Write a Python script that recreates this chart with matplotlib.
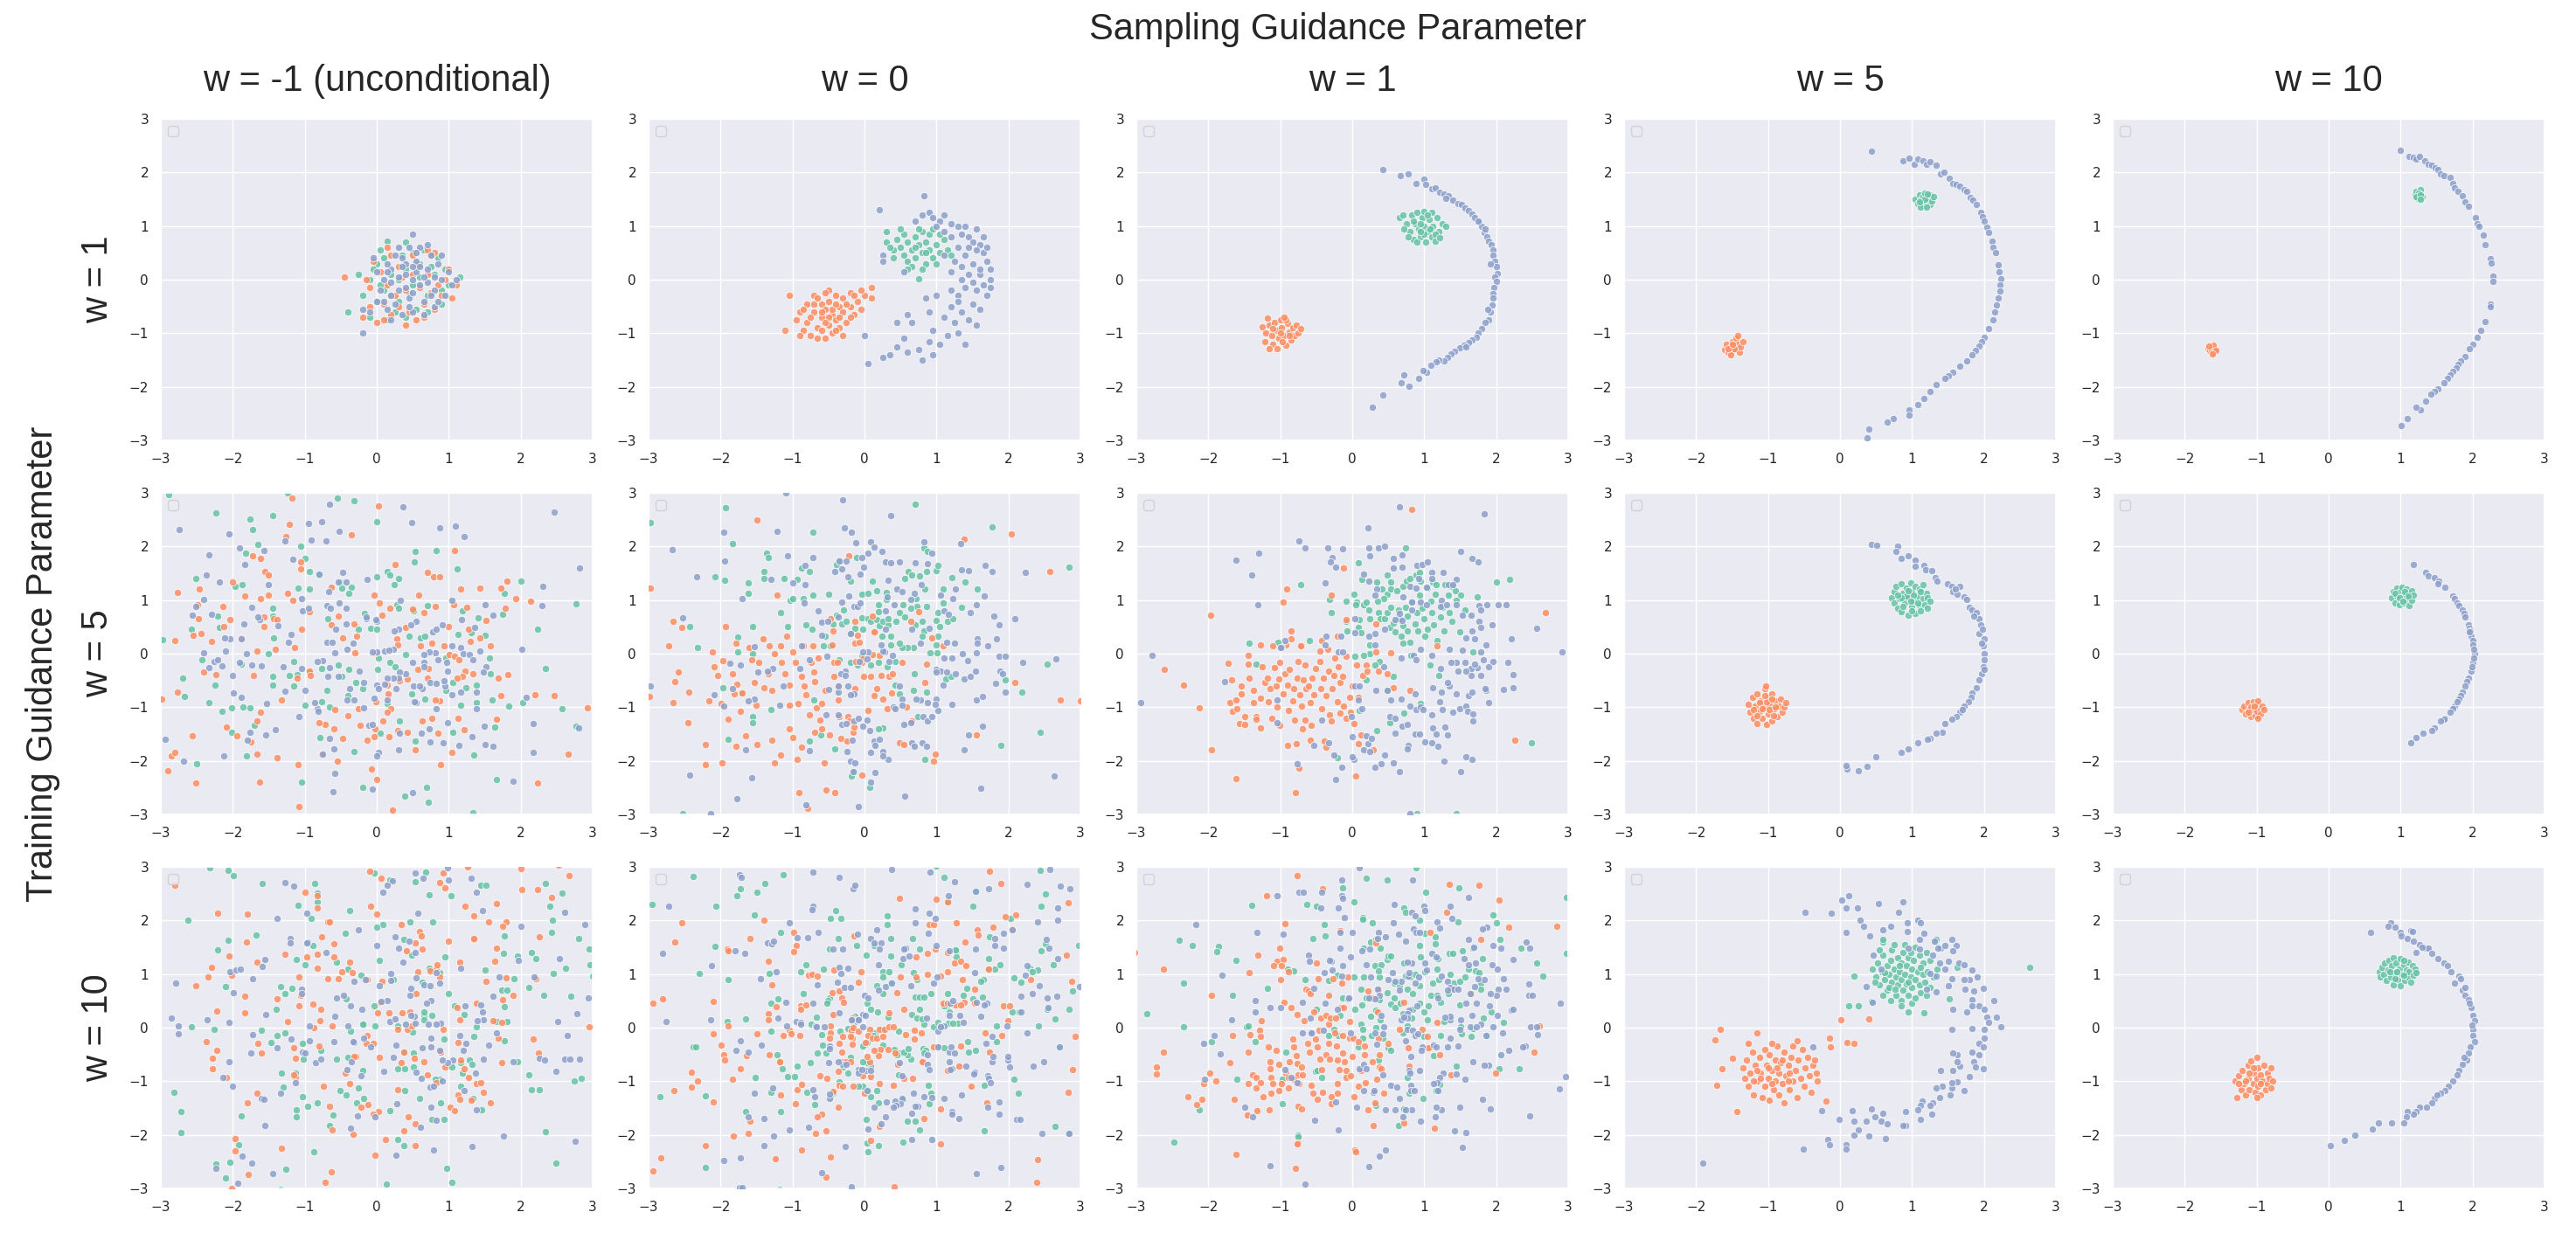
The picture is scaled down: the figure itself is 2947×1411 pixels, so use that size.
import matplotlib
matplotlib.use("Agg")
import matplotlib.pyplot as plt
import numpy as np
import seaborn as sns

COL_LABELS = ["w = -1 (unconditional)", "w = 0", "w = 1", "w = 5", "w = 10"]
ROW_LABELS = ["w = 1", "w = 5", "w = 10"]
SUPTITLE = "Sampling Guidance Parameter"
SUPYLABEL = "Training Guidance Parameter"
TICKS = [-3, -2, -1, 0, 1, 2, 3]

# points, "x,y" pairs, one string per class
# training w = 1
R1C1_GREEN = """-0.25,0.1 -0.4,-0.6 0.15,0.72 0.4,0.7 -0.1,-0.7 1.15,0.05 0.0,0.3 0.1,-0.2 0.2,0.1 0.3,-0.4
0.4,0.2 0.5,-0.1 0.6,0.3 0.7,-0.3 0.8,0.1 0.9,-0.2 0.0,-0.4 0.1,0.4 0.25,-0.6 0.35,0.45 0.55,-0.55 0.65,0.55
0.85,0.4 0.95,0.2 1.0,-0.1 -0.1,0.0 0.05,-0.1 0.3,0.0 0.45,-0.25 0.6,0.05 0.75,0.25 0.2,-0.3 -0.05,0.2 0.5,0.5
0.7,-0.6 0.15,-0.75 0.4,-0.7 0.9,-0.45 0.05,0.55 -0.2,-0.3"""
R1C1_ORANGE = """-0.45,0.05 0.15,0.6 -0.2,-0.7 1.05,-0.35 0.8,0.5 0.7,0.55 0.75,0.45 -0.1,-0.5 0.0,-0.8 0.1,-0.45
0.2,-0.65 0.3,-0.5 0.45,-0.6 0.55,-0.75 0.65,-0.45 0.8,-0.55 0.9,-0.3 1.0,0.2 0.95,0.0 0.05,0.15 -0.1,-0.15
0.15,-0.1 0.3,0.25 0.4,-0.2 0.5,0.1 0.6,-0.15 0.7,0.1 0.85,-0.1 0.25,-0.3 0.35,0.05 0.55,0.3 0.2,0.45 -0.05,0.35
0.4,-0.85 0.65,-0.7 0.1,-0.75 1.1,-0.1 0.5,0.45 -0.15,0.0 0.75,-0.25"""
R1C1_BLUE = """0.5,0.85 -0.2,-1.0 -0.2,-0.55 -0.1,-0.6 0.5,0.0 0.4,0.1 0.6,-0.1 0.3,-0.2 0.7,0.2 0.2,0.2 0.8,-0.2
0.55,0.35 0.45,-0.35 0.35,0.4 0.65,-0.4 0.25,-0.45 0.75,0.45 0.1,0.0 0.9,0.0 0.15,0.3 0.85,0.3 0.2,-0.3 0.95,-0.3
0.0,0.15 1.0,0.15 0.05,-0.2 1.05,-0.1 0.45,0.6 0.6,0.6 0.3,0.6 0.5,-0.6 0.65,-0.65 0.35,-0.65 0.8,-0.5 0.15,-0.55
0.9,0.45 -0.05,0.4 0.55,0.15 0.4,-0.15 0.3,0.05 0.7,-0.05 0.6,0.25 0.4,0.3 0.5,-0.25 0.2,-0.05 0.8,0.05 0.1,-0.4
0.25,0.45 0.75,-0.3 0.55,0.5 0.0,-0.4 1.1,0.0 0.7,0.65 0.2,-0.75 0.45,-0.5 0.35,0.25 0.65,0.05 0.85,-0.4 0.15,0.15
0.5,0.25"""

R1C2_GREEN = """0.3,0.9 0.3,0.7 0.75,0.02 0.4,0.55 0.45,0.75 0.5,0.6 0.55,0.45 0.55,0.85 0.6,0.7 0.6,0.35 0.65,0.55
0.7,0.8 0.7,0.4 0.75,0.65 0.8,0.5 0.8,0.9 0.85,0.3 0.85,0.7 0.9,0.55 0.9,0.85 0.95,0.4 1.0,0.65 1.0,0.3 1.05,0.5
1.1,0.75 1.15,0.55 0.65,0.25 0.5,0.95 0.75,0.95 0.95,0.95 0.4,0.4 0.6,0.2 0.7,0.6 0.85,0.5 1.2,0.45 0.8,0.2
0.35,0.6 1.05,0.85"""
R1C2_ORANGE = """-1.05,-0.3 -1.1,-0.95 0.1,-0.15 0.1,-0.35 -0.5,-0.2 -0.55,-1.1 -0.9,-0.6 -0.8,-0.45 -0.8,-0.8
-0.75,-1.05 -0.7,-0.3 -0.7,-0.6 -0.65,-0.9 -0.6,-0.45 -0.6,-0.7 -0.55,-0.55 -0.5,-0.85 -0.5,-0.4 -0.45,-0.65
-0.45,-1.0 -0.4,-0.3 -0.4,-0.75 -0.35,-0.5 -0.35,-0.9 -0.3,-0.6 -0.3,-0.35 -0.25,-0.8 -0.2,-0.5 -0.2,-0.25
-0.15,-0.65 -0.1,-0.4 -0.05,-0.55 0.0,-0.3 -0.85,-0.95 -0.95,-0.75 -0.65,-1.1 -0.55,-0.25 -0.75,-0.7 -0.6,-0.95
-0.45,-0.55 -0.5,-0.7 -0.35,-0.7 -0.25,-0.45 -0.15,-0.3 -0.85,-0.55 -0.7,-0.45 -0.4,-0.95 -0.3,-1.05 -0.6,-0.6
-0.55,-0.8 -0.2,-0.7 -0.05,-0.2 -0.9,-1.05 -0.65,-0.35 -0.4,-0.45"""
R1C2_BLUE = """0.83,1.56 0.21,1.31 0.8,1.2 0.9,1.25 0.95,1.15 1.05,1.1 1.1,1.2 1.2,1.05 1.3,1.0 0.7,1.1 1.0,1.0
1.35,0.85 1.45,0.8 1.5,0.7 1.6,0.65 1.65,0.5 1.3,0.6 1.4,0.45 1.5,0.3 1.7,0.35 1.75,0.2 1.6,0.1 1.45,0.1 1.75,0.0
1.65,-0.1 1.55,-0.2 1.4,-0.15 1.7,-0.3 1.3,-0.3 1.5,-0.45 1.6,-0.55 1.35,-0.6 1.2,-0.5 1.45,-0.75 1.55,-0.85
1.25,-0.8 1.1,-0.7 1.3,-1.0 1.15,-1.05 0.95,-0.95 1.05,-1.2 0.9,-1.15 0.65,-0.8 0.6,-0.65 0.45,-0.8 0.55,-1.1
0.45,-1.25 0.6,-1.35 0.75,-1.3 0.95,-1.4 0.8,-1.5 0.35,-1.4 0.25,-1.45 0.05,-1.56 0.0,-1.05 0.25,0.45 0.25,0.35
1.2,0.8 1.1,0.9 1.35,0.25 1.55,0.95 1.4,1.0 1.25,0.35 1.2,0.15 1.35,0.0 1.55,0.55 1.65,0.8 1.1,0.45 1.0,-0.3
1.2,-0.2 0.9,-0.6 1.4,-1.2 1.6,0.2 1.75,-0.15 1.7,0.6 1.3,-0.4 1.45,0.6 1.5,-0.05 0.55,0.15 0.85,-0.35"""

R1C3_GREEN = """0.65,1.15 0.7,1.2 0.75,1.05 0.8,0.9 0.82,1.2 0.85,0.75 0.88,1.05 0.9,1.25 0.92,0.95 0.95,0.8
0.97,1.15 1.0,1.0 1.0,1.27 1.02,0.7 1.05,0.9 1.07,1.12 1.1,1.25 1.1,0.8 1.12,1.0 1.15,0.72 1.18,1.15 1.2,0.9
1.25,1.05 1.3,1.0 0.78,0.8 0.85,1.1 0.95,1.05 1.05,1.2 1.15,0.85 0.9,0.7 1.0,0.85 1.08,0.95 0.95,0.9 1.22,0.78
0.72,0.95"""
R1C3_ORANGE = """-1.18,-0.72 -1.25,-0.88 -1.2,-1.0 -1.22,-1.15 -1.15,-0.85 -1.12,-1.05 -1.1,-1.2 -1.08,-0.8
-1.05,-0.95 -1.02,-1.1 -1.0,-0.75 -0.98,-0.9 -0.95,-1.05 -0.92,-1.22 -0.9,-0.82 -0.88,-0.98 -0.85,-1.12 -0.82,-0.9
-0.8,-1.05 -0.78,-0.85 -0.75,-1.0 -0.92,-0.75 -1.15,-1.28 -0.72,-0.92 -1.05,-1.28 -0.95,-0.7 -1.0,-1.0
-0.87,-1.05 -1.1,-0.92 -0.97,-1.15"""
R1C3_BLUE = """0.43,2.05 0.67,1.94 0.78,1.98 0.89,1.79 1.0,1.87 1.02,1.78 1.1,1.7 1.15,1.72 1.22,1.63 1.28,1.6
1.33,1.56 1.4,1.48 1.47,1.42 1.52,1.4 1.57,1.34 1.62,1.28 1.66,1.23 1.7,1.15 1.76,1.07 1.8,1.0 1.84,0.88 1.87,0.8
1.9,0.72 1.93,0.65 1.96,0.55 1.95,0.45 1.98,0.34 2.0,0.25 2.02,0.12 1.98,0.05 2.0,-0.04 1.97,-0.15 1.96,-0.26
1.95,-0.35 1.94,-0.48 1.92,-0.6 1.9,-0.75 1.85,-0.8 1.8,-0.91 1.75,-1.0 1.72,-1.08 1.66,-1.12 1.62,-1.18
1.55,-1.22 1.49,-1.27 1.42,-1.33 1.37,-1.38 1.32,-1.45 1.27,-1.51 1.2,-1.5 1.17,-1.54 1.09,-1.59 1.03,-1.73
0.98,-1.7 0.92,-1.84 0.72,-1.78 0.79,-1.99 0.68,-1.92 0.42,-2.15 0.28,-2.38 1.75,1.1 1.85,0.95 1.92,0.3
1.88,-0.55 1.58,-1.25 1.3,1.52"""

R1C4_GREEN = """1.05,1.5 1.08,1.42 1.1,1.58 1.12,1.48 1.15,1.38 1.15,1.55 1.18,1.62 1.2,1.45 1.22,1.52 1.25,1.4
1.25,1.58 1.28,1.47 1.3,1.55 1.12,1.35 1.2,1.35 1.18,1.5 1.1,1.45 1.22,1.6"""
R1C4_ORANGE = """-1.6,-1.3 -1.58,-1.2 -1.55,-1.35 -1.52,-1.25 -1.5,-1.15 -1.5,-1.32 -1.48,-1.22 -1.45,-1.3
-1.45,-1.1 -1.42,-1.2 -1.4,-1.35 -1.38,-1.25 -1.35,-1.15 -1.52,-1.4 -1.47,-1.28 -1.42,-1.05 -1.55,-1.28 -1.5,-1.2"""
R1C4_BLUE = """0.44,2.39 0.88,2.21 0.96,2.27 1.03,2.16 1.08,2.25 1.15,2.21 1.2,2.15 1.25,2.2 1.33,2.14 1.4,1.97
1.45,2.0 1.52,1.89 1.57,1.8 1.62,1.78 1.66,1.75 1.72,1.68 1.76,1.64 1.81,1.53 1.85,1.48 1.89,1.4 1.95,1.26
1.98,1.18 2.0,1.1 2.04,0.98 2.06,0.88 2.11,0.72 2.13,0.6 2.16,0.5 2.2,0.28 2.21,0.15 2.23,0.01 2.22,-0.1
2.22,-0.21 2.2,-0.35 2.18,-0.48 2.15,-0.6 2.12,-0.75 2.06,-0.91 2.0,-1.08 1.97,-1.15 1.93,-1.24 1.88,-1.32
1.84,-1.4 1.76,-1.51 1.67,-1.62 1.57,-1.73 1.5,-1.8 1.46,-1.84 1.33,-1.95 1.25,-2.08 1.16,-2.22 1.08,-2.33
0.96,-2.43 0.96,-2.52 0.74,-2.6 0.65,-2.66 0.4,-2.79 0.38,-2.95"""

R1C5_GREEN = """1.2,1.58 1.22,1.65 1.24,1.52 1.26,1.6 1.28,1.68 1.3,1.55 1.25,1.62 1.22,1.55 1.28,1.58 1.27,1.5"""
R1C5_ORANGE = """-1.68,-1.28 -1.65,-1.32 -1.62,-1.25 -1.6,-1.35 -1.58,-1.28 -1.63,-1.3 -1.6,-1.22 -1.66,-1.24
-1.57,-1.32 -1.62,-1.38"""
R1C5_BLUE = """1.0,2.41 1.12,2.3 1.18,2.29 1.22,2.25 1.26,2.3 1.33,2.21 1.38,2.15 1.43,2.13 1.48,2.08 1.52,2.05
1.56,1.98 1.6,1.94 1.69,1.9 1.72,1.8 1.75,1.72 1.8,1.64 1.86,1.56 1.9,1.45 1.94,1.37 2.04,1.15 2.07,1.05
2.09,0.99 2.15,0.83 2.18,0.66 2.25,0.39 2.26,0.31 2.28,0.07 2.28,-0.04 2.25,-0.45 2.25,-0.51 2.18,-0.78
2.11,-0.94 2.07,-1.08 2.0,-1.2 1.96,-1.29 1.9,-1.43 1.84,-1.51 1.8,-1.58 1.77,-1.65 1.72,-1.72 1.69,-1.78
1.65,-1.85 1.6,-1.92 1.52,-2.03 1.47,-2.08 1.42,-2.14 1.35,-2.27 1.28,-2.43 1.22,-2.38 1.09,-2.6 1.01,-2.73"""

# training w = 5
R2C1_GREEN = """-2.89,2.96 -2.23,2.62 -1.76,2.51 -1.73,2.31 -1.44,2.58 -1.24,3.0 -0.55,2.9 -0.31,2.85 0.0,2.46
-1.65,2.04 -1.06,2.0 -1.82,1.87 -0.99,1.77 0.53,1.91 0.83,1.92 0.52,1.71 1.12,1.58 -2.51,1.41 -1.97,1.25
-1.87,1.29 -1.09,1.22 -0.93,1.54 -0.93,1.21 -0.8,1.46 -0.51,1.34 -0.48,1.22 -0.35,1.24 -0.39,1.13 0.0,1.43
0.14,1.53 0.18,1.47 0.3,1.4 0.24,1.28 1.77,1.13 2.01,1.36 2.77,0.93 -1.45,0.84 -2.21,0.7 -2.57,0.45 -2.19,0.49
-2.97,0.26 -1.45,0.7 -1.43,0.29 -0.68,0.65 -0.17,0.75 -0.25,0.45 -0.09,0.48 0.0,0.46 0.28,0.91 0.3,0.85 0.7,0.89
0.51,0.8 1.19,0.8 1.41,0.67 1.75,0.73 1.5,0.35 2.24,0.45 0.45,0.33 0.61,0.3 0.67,0.32 1.13,0.36 1.31,0.39
0.4,-0.02 0.02,-0.08 0.01,-0.3 0.18,-0.17 0.25,-0.24 -1.51,0.0 -1.88,-0.19 -1.15,-0.15 -0.93,-0.35 -0.76,-0.27
-0.39,-0.3 -0.53,-0.21 -2.43,-0.11 -2.7,-0.46 -2.25,-0.59 -1.45,-0.43 -1.22,-0.41 -1.11,-0.39 -0.49,-0.43
-0.29,-0.54 -0.19,-0.66 -0.4,-0.79 -0.69,-0.68 -1.15,-0.61 -1.0,-0.97 -1.45,-0.59 -1.86,-1.0 -2.02,-1.01
-2.33,-0.91 -2.67,-0.8 -2.15,-1.08 -1.76,-1.01 -0.76,-0.9 -0.66,-0.99 0.15,-0.93 0.49,-0.75 0.67,-0.85
0.96,-0.68 1.06,-0.53 1.24,-0.63 1.38,-0.59 1.58,-0.38 1.57,-0.08 2.34,-0.28 1.6,-0.87 1.84,-0.98 2.03,-0.91
2.57,-1.03 1.17,-0.97 1.06,-1.47 1.38,-0.92 1.64,-1.37 1.35,-1.89 2.77,-1.36 1.66,-2.35 0.39,-2.65 0.69,-2.49
0.72,-2.77 1.33,-2.96 -0.19,-2.5 -1.04,-2.4 -2.5,-2.05 -1.81,-1.9 -1.7,-1.33 -2.02,-1.46 -0.79,-1.57
0.05,-1.49 -0.31,-1.82 0.53,-1.63 0.31,-1.25 0.96,-0.08"""
R2C1_ORANGE = """-1.18,2.9 -1.21,2.42 -1.26,2.18 0.02,2.76 -0.35,2.22 1.08,1.92 0.25,1.66 0.71,1.51 0.79,1.43
0.88,1.43 -1.72,1.82 -1.62,1.77 -1.06,1.71 -1.06,1.58 -1.55,1.54 -1.51,1.47 -2.01,1.34 -2.47,1.21 -2.77,1.14
-1.62,1.03 -1.83,1.08 -1.51,1.1 -1.24,1.13 -1.16,1.0 -0.63,1.24 -0.04,1.1 0.04,0.95 0.58,1.09 1.17,1.21 1.43,1.22
1.81,1.36 1.72,1.22 1.93,1.02 2.14,0.98 1.07,0.91 1.25,0.86 1.79,0.84 0.81,0.88 0.65,0.76 0.5,0.83 0.18,0.84
0.07,0.72 -2.49,0.92 -2.48,0.66 -2.14,0.88 -2.04,0.64 -2.12,0.5 -2.44,0.38 -2.55,0.34 -2.8,0.24 -1.57,0.68
-1.57,0.5 -1.43,0.65 -1.38,0.64 -1.41,0.08 -1.88,0.3 -2.3,0.23 -1.66,0.05 -1.04,0.46 -0.93,0.78 -1.14,0.11
-0.53,0.7 -0.63,0.53 -0.47,0.3 -0.28,0.32 -0.32,0.55 -0.3,0.02 -0.03,0.02 0.4,0.49 0.28,0.27 0.29,0.16 0.61,0.14
0.76,0.19 0.99,0.51 0.93,0.14 1.01,-0.01 1.08,-0.05 1.14,-0.12 1.28,0.45 1.3,0.23 1.43,0.3 1.58,0.15 1.52,0.62
1.23,-0.33 1.19,-0.43 1.12,-0.46 1.34,-0.38 1.69,-0.45 1.82,-0.39 1.72,-0.79 2.2,-0.77 2.47,-0.78 2.93,-1.01
1.67,-1.23 1.21,-1.42 1.13,-1.2 1.04,-1.84 0.89,-2.07 0.85,-1.48 0.77,-1.21 0.63,-1.26 0.87,-0.88 0.81,-0.87
0.72,-0.27 0.57,-0.3 0.71,-0.46 0.32,-0.5 0.42,-0.48 0.14,-0.58 0.16,-0.75 0.2,-1.02 0.14,-1.1 0.29,-1.43
0.42,-1.46 0.53,-1.79 0.17,-1.55 0.08,-1.26 -0.02,-1.41 -0.04,-1.55 -0.13,-1.62 -0.01,-0.9 -0.26,-1.02
-0.23,-1.34 -0.4,-1.15 -0.47,-1.58 -0.58,-1.04 -0.59,-1.4 -0.72,-1.32 -0.8,-1.28 -0.55,-2.0 -0.07,-2.16 0.0,-2.34
0.22,-2.92 -1.09,-2.07 -1.08,-2.85 -0.76,-1.88 -0.94,-0.33 -0.92,-0.41 -1.1,-0.45 -1.32,-0.86 -1.61,-1.1
-1.66,-1.25 -1.75,-1.65 -2.09,-1.37 -1.94,-1.54 -2.56,-1.54 -2.77,-0.72 -2.99,-0.84 -2.4,-0.34 -2.24,-0.39
-1.71,-0.41 -1.66,-1.88 -1.38,-1.94 -1.63,-2.4 -2.51,-2.42 -2.9,-2.19 -2.85,-1.9 -2.81,-1.84 2.66,-1.88
2.24,-2.42"""
R2C1_BLUE = """-2.75,2.31 -2.05,2.23 -0.66,2.79 -0.77,2.47 -0.95,2.43 -0.52,2.28 -0.91,2.12 -0.71,2.1 -1.28,2.1
0.36,2.74 0.48,2.45 0.87,2.35 1.09,2.38 1.21,2.19 2.46,2.64 2.82,1.6 2.31,1.26 2.3,0.89 1.62,0.71 1.51,0.92
1.05,1.0 1.18,0.64 1.36,0.49 1.04,0.15 1.16,0.11 1.2,0.0 1.29,-0.02 1.33,-0.11 1.43,0.05 1.52,-0.24 1.48,-0.34
1.16,-0.71 1.05,-0.76 1.39,-0.71 1.39,-1.02 1.32,-1.55 1.14,-1.71 0.92,-1.67 0.98,-1.28 0.83,-1.02 0.73,-1.41
0.74,-1.65 0.62,-1.49 0.32,-1.49 0.3,-1.8 0.55,-0.92 0.52,-0.9 0.51,-0.61 0.63,-0.65 0.59,-0.6 0.74,-0.53
0.83,-0.55 0.95,-0.6 0.94,-0.5 0.98,-0.33 0.97,-0.17 0.85,-0.11 0.81,0.01 0.73,0.03 0.65,-0.16 0.65,-0.24
0.65,-0.02 0.78,0.41 0.83,0.46 0.91,0.53 0.55,0.6 0.47,0.53 0.3,0.45 0.33,1.0 0.0,0.61 -0.14,0.65 -0.13,1.39
0.5,-0.16 0.4,-0.38 0.31,-0.35 0.3,-0.46 0.27,-0.65 0.23,-0.45 0.15,-0.45 0.0,-0.59 0.11,-0.57 0.02,-0.65
-0.04,-0.83 0.14,-0.87 0.11,0.05 0.23,0.08 0.17,0.07 0.0,0.04 -0.06,0.03 -0.18,-1.01 -0.11,-1.33 -0.06,-1.32
0.02,-1.85 0.0,-1.91 -0.06,-2.52 0.5,-2.6 -0.58,-2.24 -0.61,-2.57 -0.75,-1.88 -0.6,-1.77 -0.66,-1.58 -0.83,-1.03
-0.81,-1.08 -0.86,-0.92 -1.08,-1.17 -1.27,-0.7 -0.99,-0.68 -0.68,-0.43 -0.53,-0.43 -0.38,-0.65 -0.41,-0.87
-0.32,-0.87 -0.18,-0.53 -0.24,-0.33 -0.66,-0.26 -0.75,-0.13 -0.83,-0.15 -1.05,-0.28 -1.3,-0.25 -1.6,-0.23
-1.74,-0.22 -2.0,-0.4 -2.15,-0.23 -2.26,-0.15 -2.21,-0.11 -2.33,-0.26 -2.41,0.02 -2.1,0.05 -2.04,0.28 -1.81,0.0
-1.91,-0.17 -1.88,0.27 -1.85,0.56 -1.74,0.86 -1.63,0.64 -1.65,0.68 -1.37,0.52 -1.23,0.21 -1.19,0.36 -1.04,1.03
-1.03,0.8 -0.95,0.84 -0.69,0.89 -0.64,0.85 -0.67,1.15 -0.42,1.34 -0.54,1.33 -0.47,1.51 -0.8,1.49 -0.52,0.95
-0.43,0.85 -0.43,0.55 -0.57,0.45 -0.69,0.22 -0.62,0.22 -0.41,0.08 -0.33,0.19 -0.58,0.01 -0.15,0.68 -0.01,0.64
0.24,0.43 -1.17,1.76 -1.51,1.28 -1.57,1.92 -1.83,1.67 -1.91,1.98 -2.33,1.85 -2.37,1.47 -2.19,1.34 -2.4,1.01
-2.51,0.88 -2.56,0.72 -2.29,0.74 -2.11,0.3 -1.99,-0.74 -1.88,-0.82 -1.53,-0.93 -1.41,-1.42 -1.54,-1.51
-1.76,-1.47 -1.8,-1.62 -2.12,-1.91 -2.69,-2.01 -2.94,-1.59 2.17,-1.3 2.17,-1.85 1.89,-2.38 1.5,-1.7 1.61,-1.73
2.08,-0.82 2.02,0.08 2.81,-1.38 1.49,-1.36"""

R2C2_GREEN = """-2.98,2.45 -1.93,2.73 -1.83,2.05 -0.72,2.27 0.71,2.79 1.77,2.36 2.84,1.62 -2.08,1.43 -1.94,1.37
-1.62,1.32 -1.61,1.13 -1.4,1.54 -1.36,1.88 -1.34,1.79 -1.4,1.41 -1.12,1.41 -0.94,1.38 -0.87,1.59 -0.77,1.54
-0.72,1.1 -1.03,1.0 -1.0,1.02 -1.16,0.77 -1.07,0.51 -0.81,0.53 -0.73,0.45 -0.85,1.03 -0.5,1.11 -0.39,1.67
-0.35,1.73 -0.2,1.36 -0.11,1.8 -0.04,1.11 0.05,1.13 0.17,1.18 0.11,1.35 0.3,1.14 0.3,1.01 0.2,0.91 0.2,0.79
-0.29,0.82 -0.39,0.71 -0.44,0.55 -0.32,0.56 -0.25,0.6 -0.2,0.37 -0.13,0.48 -0.04,0.67 -0.03,0.45 0.05,0.65
0.09,0.6 0.17,0.64 0.21,0.52 0.25,0.6 0.33,0.54 0.33,0.65 0.36,0.33 0.24,0.33 0.44,0.61 0.48,0.76 0.53,0.92
0.56,1.4 0.61,1.53 0.65,1.46 0.76,1.45 0.84,1.21 0.86,1.54 0.83,1.98 0.88,1.91 0.99,1.55 1.02,1.65 1.21,1.42
1.4,1.33 1.57,1.21 1.35,0.87 1.09,1.21 1.09,0.95 1.02,0.76 0.86,0.88 0.72,1.03 0.73,0.88 0.64,0.84 0.56,0.68
0.7,0.54 0.8,0.6 0.83,0.43 0.99,0.62 1.04,0.5 1.15,0.6 1.23,0.65 1.02,0.33 0.99,0.16 1.01,0.01 0.91,0.01
0.8,0.33 0.68,0.11 0.6,0.11 0.52,0.12 0.48,0.19 0.37,0.16 0.42,-0.15 0.31,-0.24 0.19,-0.17 0.09,-0.21
-0.04,-0.05 -0.1,-0.21 -0.19,-0.17 -0.35,-0.11 -0.47,0.14 -0.57,0.14 -0.55,0.33 0.42,-0.59 0.48,-0.75
0.69,-0.38 0.68,-0.68 0.74,-1.17 0.86,-0.71 0.84,-1.97 0.25,-1.39 0.2,-1.4 0.07,-2.5 -0.18,-2.28 -0.15,-2.2
1.13,-0.48 1.2,-0.43 1.96,-0.49 2.19,-0.72 2.44,-1.46 1.89,-1.72 2.54,-0.2 -0.77,-1.63 -0.41,-1.77 -1.3,-1.04
-1.56,-1.18 -1.56,-1.28 -1.71,-0.73 -1.97,-0.64 -1.9,-1.6 -2.32,0.12 -2.43,0.5 -1.76,0.03 -1.76,0.31 -1.56,0.0
-1.56,0.51 -2.53,-2.99 -0.7,-0.87 -0.61,-1.52"""
R2C2_ORANGE = """-1.5,2.49 -2.98,1.22 -1.21,1.09 -0.22,1.82 1.39,2.14 2.04,2.24 2.57,1.53 -2.66,0.6 -2.54,0.49
-1.93,0.51 -2.72,0.14 -2.59,-0.35 -2.63,-0.52 -2.99,-0.8 -2.66,-0.92 -2.44,-0.72 -2.45,-1.29 -2.21,-1.7
-2.21,-2.07 -1.98,-2.04 -2.16,-0.88 -2.11,0.03 -2.09,-0.24 -2.04,-0.41 -1.97,-0.13 -1.99,-0.93 -1.9,-1.23
-1.81,-0.75 -1.84,-0.38 -1.78,0.19 -1.77,-0.57 -1.73,-1.08 -1.79,-1.73 -1.7,-0.73 -1.65,-1.53 -1.6,0.11
-1.57,-0.12 -1.53,-0.53 -1.51,-0.96 -1.5,-1.7 -1.47,-0.16 -1.41,0.27 -1.4,-0.64 -1.34,-0.37 -1.32,0.15
-1.29,-0.68 -1.29,-1.61 -1.25,-2.04 -1.25,0.0 -1.17,0.15 -1.17,-1.89 -1.15,-0.16 -1.1,-0.37 -1.08,0.33
-1.05,-0.58 -1.05,-0.96 -1.04,-1.41 -1.0,0.03 -0.99,-1.57 -0.96,-0.16 -0.94,-1.97 -0.92,-0.93 -0.91,-2.6
-0.88,-0.43 -0.87,-1.75 -0.85,0.14 -0.84,-0.6 -0.81,-0.76 -0.79,-2.88 -0.76,-1.14 -0.74,-0.17 -0.72,0.14
-0.7,-0.35 -0.69,-1.47 -0.69,-0.52 -0.67,-1.01 -0.64,-0.08 -0.62,-1.24 -0.6,-0.93 -0.59,-1.41 -0.56,-2.04
-0.55,-0.68 -0.53,-2.54 -0.49,-1.52 -0.47,0.65 -0.45,0.16 -0.44,0.43 -0.43,-0.16 -0.43,-0.43 -0.41,-2.6
-0.38,-0.17 -0.37,-0.6 -0.36,-0.87 -0.35,-1.17 -0.33,-1.58 -0.24,-1.63 -0.23,-1.17 -0.21,-1.26 -0.16,-1.46
-0.15,-1.37 -0.13,0.19 -0.13,-0.65 -0.12,-0.14 -0.1,0.34 -0.07,0.22 -0.04,-0.16 -0.04,-2.27 -0.03,-0.1
-0.01,-0.43 0.05,-1.06 0.09,-0.43 0.11,-0.01 0.13,-0.79 0.15,0.41 0.17,-0.65 0.21,-0.03 0.23,-0.41 0.26,-0.84
0.32,-1.03 0.34,-0.42 0.39,-0.38 0.38,-0.73 0.48,-1.67 0.52,-0.17 0.55,-1.7 0.58,-0.99 0.64,0.61 0.66,-1.25
0.75,0.79 0.84,-0.53 0.86,-0.2 0.94,0.3 0.96,-2.01 0.98,-1.88 1.09,0.14 1.55,-1.51 2.09,-0.54 2.72,-0.87
3.0,-0.88 -0.13,0.61 0.13,0.4 0.11,0.7"""
R2C2_BLUE = """-1.09,3.0 -0.3,2.87 0.36,2.57 -1.95,2.27 -1.21,2.28 -0.28,2.34 -0.18,2.27 -0.12,2.07 0.09,2.08
0.13,1.99 0.24,1.9 0.82,2.09 0.94,1.87 1.34,2.05 -2.67,1.94 -1.94,1.73 -2.33,1.44 -1.07,1.82 -0.83,1.65
-0.72,1.79 -0.35,1.73 -0.26,1.73 -0.04,1.79 0.05,1.88 -0.01,1.61 -0.41,1.53 -0.32,1.58 -0.23,1.43 -0.06,1.49
0.29,1.71 0.37,1.69 0.48,1.71 0.71,1.7 0.88,1.68 1.35,1.57 1.45,1.55 1.68,1.64 1.77,1.53 2.23,1.51 -1.3,1.39
-1.0,1.32 -0.83,1.28 -0.22,1.07 0.33,1.37 0.45,1.21 0.52,1.16 0.69,1.13 0.79,1.29 1.06,1.1 1.26,1.21 1.23,1.03
1.66,1.07 1.55,0.91 -1.7,1.03 -0.64,0.8 -0.84,0.95 -0.32,0.97 -0.15,0.88 -0.1,0.88 -0.06,0.95 0.31,1.06
0.41,0.91 0.29,0.8 0.64,1.01 1.11,0.8 1.16,0.73 1.47,0.76 1.8,0.7 1.87,0.54 2.09,0.66 -2.53,0.67 -0.6,0.59
-0.36,0.68 -0.19,0.37 0.29,0.46 0.65,0.46 0.9,0.47 0.78,0.19 1.14,0.22 1.25,0.19 1.57,0.27 1.57,0.19 1.83,0.27
1.71,0.15 1.55,0.01 1.43,-0.13 1.36,0.0 1.22,-0.08 1.1,-0.08 0.99,-0.3 1.06,-0.33 1.14,-0.34 1.26,-0.38
1.38,-0.48 1.47,-0.43 1.54,-0.33 1.87,-0.05 1.95,-0.05 1.88,-0.33 1.92,-0.38 1.82,-0.56 1.95,-0.71 2.2,-0.17
2.66,-0.09 1.0,-0.34 1.09,-0.59 1.21,-0.95 1.56,-0.87 1.64,-0.8 0.99,-0.84 1.02,-1.06 0.98,-0.95 0.87,-0.92
0.78,-0.87 0.72,-0.84 0.52,-0.84 0.52,-0.97 0.4,-0.99 0.42,-1.03 0.49,-0.6 0.34,-0.14 0.39,-0.04 0.28,0.03
0.25,0.05 0.23,0.17 0.05,0.04 -0.03,0.03 0.04,-0.1 -0.07,-0.14 -0.27,-0.33 -0.33,-0.37 -0.27,-0.41 -0.23,-0.6
-0.15,-0.75 -0.2,-0.76 -0.32,-1.32 -0.26,-1.3 -0.15,-1.26 -0.08,-1.21 -0.03,-1.36 0.04,-1.24 0.07,-1.44
0.13,-1.63 0.21,-1.6 0.14,-1.71 0.26,-1.82 0.33,-1.98 0.09,-1.84 0.25,-1.91 -0.17,-1.61 -0.24,-1.82 -0.19,-2.0
-0.13,-2.04 -0.16,-2.2 0.15,-2.22 0.09,-2.4 -0.09,-2.85 0.56,-2.65 0.66,-1.66 0.69,-1.73 0.8,-1.67 0.86,-1.73
0.64,-1.29 0.55,-1.32 0.81,-1.18 0.88,-1.26 0.93,-1.17 1.38,-1.8 1.45,-1.51 1.64,-1.35 1.62,-2.51 2.64,-2.28
-0.53,-1.14 -0.36,-1.14 -0.5,-0.67 -0.36,-0.72 -0.36,-0.61 -0.52,-0.05 -0.51,0.6 -0.6,0.34 -0.88,0.14
-0.76,-0.12 -0.9,-0.28 -1.13,-0.6 -1.18,-0.96 -1.28,-0.27 -1.35,-0.33 -1.48,-0.34 -1.53,0.13 -1.53,-0.84
-1.62,-0.88 -1.73,-0.22 -1.87,-0.18 -1.83,-0.65 -1.96,-0.98 -2.09,-0.77 -2.98,-0.6 -1.65,-1.8 -1.57,-2.32
-1.77,-2.7 -2.14,-2.98 -2.43,-2.27 -0.81,-2.82 -0.77,-1.81"""

R2C3_GREEN = """0.74,1.98 0.09,1.7 0.13,1.38 2.01,1.34 2.19,1.38 -0.72,1.28 -0.32,1.01 -0.29,0.77 -1.43,0.2
-1.34,-0.2 -1.03,0.22 -0.6,0.24 -0.09,0.61 -0.07,0.43 0.02,1.11 -0.08,0.98 0.06,0.97 0.05,0.92 0.16,0.92
0.2,0.97 0.23,0.82 0.24,0.65 0.08,0.49 0.12,0.39 0.1,0.63 0.24,0.17 0.24,0.0 0.16,-0.04 0.04,-0.05 0.34,1.33
0.41,1.2 0.48,1.47 0.53,1.33 0.49,1.11 0.44,1.03 0.54,1.2 0.62,1.17 0.7,1.25 0.75,1.36 0.8,1.41 0.89,1.47
0.93,1.51 0.95,1.36 1.05,1.22 1.12,1.33 1.17,1.28 1.29,1.28 1.38,1.25 1.43,1.17 1.51,1.1 1.74,1.06 0.35,0.98
0.36,0.76 0.39,0.65 0.45,0.65 0.49,0.76 0.52,0.49 0.54,0.87 0.57,0.57 0.59,0.41 0.64,0.82 0.66,0.65 0.68,0.33
0.7,0.19 0.7,0.52 0.74,0.87 0.76,0.7 0.77,0.43 0.8,0.22 0.81,-0.03 0.83,0.98 0.87,0.55 0.9,0.76 0.91,0.43
0.93,1.09 0.97,0.84 0.99,0.65 1.01,0.33 1.05,0.46 1.09,0.98 1.11,0.76 1.13,0.54 1.15,1.11 1.18,0.24 1.23,0.68
1.25,0.87 1.27,0.43 1.33,1.09 1.35,0.76 1.39,0.6 1.45,1.0 1.49,0.41 1.57,0.82 1.68,0.03 1.2,-0.41 1.08,-0.22
0.95,-0.93 0.72,-1.11 0.52,-1.29 0.49,-0.68 0.57,-0.43 0.38,-0.14 0.32,-0.22 0.2,-0.49 0.1,-1.06 -0.21,-1.94
0.34,-1.44 1.44,-2.99 2.49,-1.67 0.9,-2.99"""
R2C3_ORANGE = """0.83,2.69 -0.12,1.59 -0.91,1.2 -0.96,0.96 -0.29,1.1 -1.97,0.71 0.33,0.56 -0.09,0.63 -0.85,0.43
2.68,0.76 -2.61,-0.29 -2.34,-0.58 -2.12,-1.01 -1.95,-1.8 -1.73,-0.18 -1.68,-0.49 -1.7,-0.92 -1.66,-1.08
-1.62,-0.87 -1.6,-1.02 -1.54,-0.75 -1.54,-0.6 -1.49,-1.17 -1.57,-1.3 -1.49,-1.32 -1.44,-0.04 -1.44,-0.19
-1.43,-0.45 -1.37,-0.68 -1.37,-0.92 -1.34,-1.17 -1.33,-1.22 -1.28,0.17 -1.28,-1.39 -1.27,-0.83 -1.25,-0.24
-1.22,-0.54 -1.18,-0.46 -1.16,-0.9 -1.14,-0.65 -1.12,-1.2 -1.1,0.14 -1.08,-0.26 -1.06,-0.6 -1.05,-1.0
-1.02,-0.48 -1.01,-0.16 -1.01,-1.33 -0.96,-0.75 -0.94,-0.38 -0.92,0.16 -0.9,-0.59 -0.9,-1.71 -0.89,-1.06
-0.87,-0.29 -0.85,0.27 -0.83,-0.88 -0.81,-0.65 -0.8,-1.24 -0.78,-1.68 -0.77,-0.46 -0.75,-0.14 -0.73,-0.76
-0.71,-0.98 -0.71,0.15 -0.69,-1.41 -0.68,-0.49 -0.66,-0.22 -0.65,-1.24 -0.64,-0.65 -0.61,-0.6 -0.58,-0.92
-0.58,-1.62 -0.57,-1.33 -0.56,-0.46 -0.53,-0.76 -0.51,-0.27 -0.45,0.05 -0.45,-0.15 -0.44,-0.65 -0.42,-1.03
-0.4,-0.46 -0.39,-1.63 -0.37,-1.74 -0.36,-0.79 -0.34,0.08 -0.33,-0.33 -0.32,-1.14 -0.29,-1.25 -0.28,-0.65
-0.25,-0.41 -0.24,-0.08 -0.21,0.33 -0.21,-0.9 -0.19,-0.24 -0.17,-0.54 -0.17,-1.11 -0.13,-0.43 -0.12,-0.98
-0.09,-0.05 -0.09,-1.2 -0.04,-0.82 -0.02,-1.09 0.0,-0.6 0.02,-1.3 0.06,-0.22 0.08,-0.82 0.09,-1.68 0.12,-1.51
0.14,-0.41 0.2,-0.22 0.21,-0.33 0.33,0.03 0.37,-0.33 0.48,-0.38 0.54,0.02 0.57,-0.63 0.8,-0.69 1.18,0.14
2.26,-1.61 -0.79,-2.6 -0.74,-2.13 -1.62,-2.33 0.05,-2.28 0.29,-1.79 -0.72,0.15 -0.43,0.25"""
R2C3_BLUE = """0.66,2.74 1.83,2.61 0.22,2.34 -0.74,2.11 -0.66,1.98 -0.34,1.97 -0.13,1.95 0.23,1.98 0.37,1.97
0.45,2.0 0.24,1.82 0.57,1.78 0.69,1.84 -0.28,1.8 -0.3,1.71 -0.23,1.61 -1.62,1.74 -1.3,1.88 -1.4,1.46 -1.31,0.92
-0.38,1.32 0.16,1.49 0.23,1.36 0.34,1.2 0.32,1.1 0.57,1.59 0.69,1.61 0.9,1.64 0.97,1.67 1.05,1.71 1.1,1.52
1.26,1.51 1.51,1.91 1.67,1.78 1.75,1.71 1.45,1.39 1.33,1.29 1.4,1.29 1.11,1.4 0.92,1.4 0.8,1.25 0.89,1.22
1.03,1.24 0.7,1.06 0.83,0.97 0.95,0.97 1.03,0.91 0.83,0.82 0.66,0.75 1.24,0.99 1.23,0.88 1.31,0.92 1.45,0.92
1.53,0.71 1.65,0.72 1.76,0.9 1.87,0.92 1.79,0.82 2.03,0.92 2.14,0.92 1.94,0.54 1.76,0.6 1.66,0.43 1.58,0.3
1.78,0.49 1.7,0.27 1.86,0.16 1.78,0.03 1.82,-0.11 1.9,-0.24 1.96,-0.14 1.74,-0.26 1.65,-0.27 1.7,-0.19
1.78,-0.41 1.86,-0.68 1.65,-0.41 1.58,-0.33 1.47,-0.33 1.57,-0.17 1.45,-0.16 1.37,-0.16 1.23,-0.27 1.1,-0.03
0.95,0.08 0.85,-0.03 0.89,-0.11 0.68,-0.08 0.69,0.62 0.6,0.64 0.45,0.45 0.32,0.16 0.32,0.38 0.23,0.33 0.04,0.65
0.04,0.39 -0.16,0.33 -0.37,0.33 -0.38,0.17 -0.19,0.04 -0.13,0.04 -0.98,0.11 -0.93,0.24 -1.77,-0.52 -2.78,-0.04
-2.94,-0.92 -1.04,-0.86 -1.04,-1.28 -0.99,0.12 -0.43,-1.24 -0.33,-1.67 -0.53,-1.72 -0.77,-2.05 -0.26,-1.89
-0.23,-2.34 -0.15,-2.12 -0.01,-1.18 0.08,-0.87 0.04,-0.6 0.1,-0.6 0.13,-1.03 0.0,-1.55 0.03,-1.98 0.0,-1.93
0.16,-1.79 0.22,-1.68 0.24,-1.82 0.19,-1.53 0.27,-1.58 0.32,-2.12 0.4,-2.05 0.45,-1.89 0.33,-0.68 0.44,-0.24
0.48,-0.68 0.53,-0.87 0.52,-1.17 0.59,-1.2 0.59,-1.48 0.69,-1.35 0.77,-1.32 0.78,-1.71 0.87,-1.5 0.89,-1.04
0.95,-0.99 0.98,-1.04 0.8,-0.98 0.88,-0.75 0.68,-0.84 0.57,-2.04 0.65,-2.2 0.77,-1.78 0.94,-1.5 1.01,-1.64
1.11,-1.67 1.1,-1.14 1.12,-1.39 1.17,-1.5 1.19,-1.73 1.12,-0.64 1.24,-0.71 1.22,-0.9 1.25,-1.04 1.29,-1.37
1.32,-1.51 1.27,-2.0 1.4,-1.09 1.35,-0.6 1.32,-0.54 1.45,-0.75 1.49,-1.02 1.58,-0.98 1.6,-1.08 1.51,-2.2
1.67,-1.97 1.61,-0.79 1.66,-0.71 1.85,-0.65 1.9,-0.91 1.68,-1.26 1.68,-1.13 2.1,-0.67 2.23,-0.63 2.23,-0.39
2.16,-0.16 2.21,0.27 2.56,0.47 2.92,0.03 1.53,0.07 1.35,0.08 0.8,-2.99 1.58,-1.93"""

R2C4_GREEN = """0.72,1.05 0.75,0.95 0.75,1.15 0.78,1.25 0.8,0.85 0.82,1.02 0.85,1.3 0.85,0.78 0.88,1.12 0.9,0.95
0.92,1.22 0.95,0.72 0.95,1.05 0.98,1.32 1.0,0.88 1.0,1.15 1.02,0.98 1.05,1.25 1.05,0.75 1.08,1.08 1.1,0.9
1.1,1.2 1.12,0.8 1.15,1.02 1.15,1.28 1.18,0.92 1.2,1.12 1.22,0.85 1.22,1.05 1.25,0.98 0.88,0.88 0.92,1.08
1.02,1.1 0.85,1.05 1.08,0.95 0.95,1.18 1.0,0.8 1.12,1.15 0.8,1.1 0.98,0.98"""
R2C4_ORANGE = """-1.28,-0.95 -1.25,-1.1 -1.22,-0.82 -1.2,-1.2 -1.18,-0.98 -1.15,-0.75 -1.15,-1.3 -1.12,-1.08
-1.1,-0.88 -1.08,-1.2 -1.05,-0.65 -1.05,-1.0 -1.02,-1.32 -1.0,-0.82 -1.0,-1.12 -0.98,-0.95 -0.95,-1.25
-0.95,-0.75 -0.92,-1.05 -0.9,-0.88 -0.88,-1.18 -0.85,-0.98 -0.82,-0.85 -0.8,-1.1 -0.78,-1.0 -0.75,-0.92
-1.12,-0.92 -1.08,-1.02 -0.98,-1.05 -1.02,-0.9 -1.2,-1.05 -0.92,-1.15 -1.05,-0.78 -0.9,-1.0 -1.15,-1.15
-1.03,-0.6 -0.95,-0.85"""
R2C4_BLUE = """0.44,2.03 0.51,2.02 0.8,2.01 0.78,1.9 0.85,1.78 0.95,1.82 1.04,1.74 1.05,1.63 1.16,1.64 1.19,1.57
1.27,1.55 1.32,1.42 1.35,1.36 1.49,1.3 1.55,1.25 1.57,1.15 1.67,1.25 1.63,1.11 1.72,1.06 1.76,1.01 1.8,0.87
1.83,0.82 1.89,0.76 1.93,0.65 1.96,0.54 1.93,0.38 2.0,0.27 1.99,0.14 2.01,0.0 2.0,-0.11 1.99,-0.24 1.97,-0.38
1.93,-0.49 1.89,-0.63 1.84,-0.73 1.82,-0.82 1.78,-0.9 1.72,-0.98 1.67,-1.09 1.61,-1.17 1.55,-1.22 1.46,-1.3
1.42,-1.47 1.33,-1.48 1.25,-1.58 1.21,-1.6 1.08,-1.67 0.95,-1.77 0.85,-1.84 0.5,-1.93 0.38,-2.11 0.25,-2.18
0.1,-2.15 0.08,-2.08 1.98,0.45 2.0,-0.3 1.86,0.7 1.6,1.2 1.7,-1.05 1.97,0.2"""

R2C5_GREEN = """0.88,1.05 0.9,1.15 0.92,0.95 0.95,1.22 0.95,1.08 0.98,0.92 1.0,1.15 1.0,1.02 1.02,1.24 1.05,0.95
1.05,1.1 1.08,1.2 1.08,1.0 1.1,1.12 1.12,0.9 1.12,1.05 1.15,1.18 1.15,1.0 1.18,1.1 0.92,1.12 0.98,1.05
1.03,0.98 1.06,1.15 1.1,1.08"""
R2C5_ORANGE = """-1.2,-1.05 -1.18,-0.98 -1.15,-1.12 -1.12,-0.92 -1.1,-1.05 -1.08,-1.18 -1.05,-0.9 -1.05,-1.05
-1.02,-1.15 -1.0,-0.95 -1.0,-1.08 -0.98,-0.88 -0.95,-1.02 -0.95,-1.12 -0.92,-0.98 -0.9,-1.05 -1.08,-1.0
-1.03,-0.98 -1.12,-1.1 -0.98,-1.2"""
R2C5_BLUE = """1.18,1.67 1.35,1.51 1.38,1.45 1.47,1.42 1.53,1.36 1.52,1.3 1.62,1.24 1.73,1.08 1.75,1.02 1.78,0.95
1.81,0.9 1.86,0.82 1.88,0.75 1.9,0.68 1.94,0.54 1.95,0.48 1.97,0.43 1.98,0.33 2.0,0.25 2.01,0.16 2.03,0.0
2.02,0.08 2.01,-0.16 2.02,-0.08 1.98,-0.33 1.99,-0.25 1.94,-0.46 1.92,-0.52 1.9,-0.6 1.86,-0.71 1.84,-0.78
1.81,-0.84 1.75,-0.98 1.73,-1.02 1.69,-1.09 1.62,-1.2 1.6,-1.22 1.56,-1.25 1.47,-1.39 1.43,-1.44 1.31,-1.49
1.22,-1.57 1.14,-1.66 1.78,-0.9 1.96,0.4"""

# training w = 10
R3C1_GREEN = """-2.32,2.99 -2.07,2.93 -1.99,2.84 -1.59,2.69 -2.62,2.0 -2.21,1.45 -2.06,1.63 -1.68,1.73 -2.1,0.77
-2.26,-0.04 -2.57,0.01 -2.82,-1.21 -2.72,-1.56 -2.72,-1.95 -2.23,-2.54 -2.04,-2.51 -2.1,-2.81 -1.92,-2.18
-1.88,-1.64 -1.6,-0.05 -1.47,-0.28 -1.38,-0.14 -1.28,-0.1 -1.4,0.35 -1.27,0.63 -1.34,0.77 -1.18,0.74 -1.12,1.27
-1.09,2.28 -1.0,1.18 -0.83,2.51 -0.83,2.35 -0.86,2.69 -0.91,2.03 -0.89,1.54 -0.38,2.18 -0.44,1.76 -0.56,1.23
-0.4,1.09 -0.22,0.98 -0.42,0.53 -0.36,-0.07 -0.56,-0.59 -0.4,-0.55 -0.2,-0.8 -0.26,-1.13 -0.28,-1.41
-0.18,-1.32 -0.42,-1.26 -0.51,-1.18 -0.61,-1.63 -0.66,-1.83 -0.87,-2.32 -0.96,-1.46 -0.83,-1.41 -1.03,-1.29
-1.12,-1.53 -1.12,-1.67 -1.13,-0.84 -1.32,-0.85 -1.3,-1.11 -1.02,-0.58 -1.03,-0.29 -0.78,-0.42 -1.26,-2.64
-1.33,-3.02 -0.04,2.89 0.18,2.76 0.09,1.92 0.0,1.88 0.04,1.25 -0.04,0.41 -0.02,0.04 -0.18,0.06 -0.2,0.06
0.23,0.89 0.38,1.64 0.46,1.97 0.49,1.35 0.53,2.73 0.68,2.9 0.73,2.48 0.78,1.98 0.63,0.84 0.66,0.23 0.65,0.3
0.77,0.23 0.73,1.11 0.87,1.03 0.95,1.32 1.0,0.64 0.93,-0.21 0.87,-0.96 0.81,-0.97 0.76,-1.72 0.89,-1.41
0.94,-1.71 0.97,-2.63 1.04,-2.89 1.04,-0.74 1.19,-0.84 1.17,-0.65 1.29,-0.6 1.32,-0.69 1.17,-1.1 1.34,-1.32
1.46,-1.53 1.35,-0.16 1.22,0.25 1.08,0.4 1.39,0.02 1.5,1.07 1.03,2.46 1.45,2.66 1.52,2.66 1.77,1.72 1.76,1.39
1.74,0.7 1.77,0.39 1.77,-0.24 1.91,0.92 1.96,1.33 2.11,0.75 2.15,1.4 2.21,1.28 2.34,2.69 2.4,2.26 2.44,2.0
2.43,1.77 2.45,1.01 2.32,0.61 2.58,2.51 2.62,1.11 2.7,0.58 2.81,1.67 2.95,1.46 2.96,1.18 3.0,0.96 2.74,-1.0
2.84,-0.94 2.11,-0.88 2.15,-1.16 1.66,0.11 1.81,0.11 1.81,0.7 1.96,-0.64 2.26,-1.15 2.35,-1.94 2.49,-2.52
0.29,-2.09 0.38,-2.2 0.13,-2.92 0.18,-1.55 0.39,-1.17 0.29,-0.76 0.39,-0.76 0.51,-0.74 0.59,-1.32 0.38,-0.46
0.51,-0.47 0.5,-0.08 0.29,0.03 0.65,0.15"""
R3C1_ORANGE = """-2.8,2.65 -2.21,2.14 -1.8,2.12 -1.0,2.53 -0.83,2.46 -0.83,2.23 -0.68,1.98 -0.66,1.97 -0.1,2.92
0.06,2.78 -0.08,2.26 0.0,2.12 0.92,2.89 0.88,2.71 0.95,2.61 1.26,3.0 2.01,2.97 2.02,2.58 2.24,2.57 2.43,2.43
2.53,3.04 2.67,2.83 1.66,2.31 1.55,1.98 1.35,2.09 1.23,2.26 1.8,1.97 1.75,1.89 1.35,1.65 2.26,1.69 1.67,1.49
1.64,1.24 1.8,0.93 1.9,0.61 1.75,0.52 1.52,0.86 1.38,0.45 1.12,0.37 1.15,0.15 1.62,0.13 1.74,0.09 1.69,-0.2
2.18,-0.21 2.95,0.01 2.25,-0.48 2.21,0.91 1.74,-0.65 1.13,-0.27 1.17,-0.61 1.21,-0.76 1.28,-0.93 1.38,-1.04
1.45,-1.02 1.48,-1.21 1.31,-1.35 1.13,-1.26 1.15,-1.33 1.02,-1.48 1.08,-1.55 1.58,-1.4 0.95,-0.74 0.89,-0.45
0.92,-0.03 0.83,1.1 0.84,1.17 0.74,1.06 0.87,0.95 0.99,1.62 1.35,1.66 1.15,1.23 0.59,1.79 0.62,1.71 0.54,1.58
0.63,1.47 0.41,1.44 0.34,1.93 0.57,1.05 0.55,0.64 0.46,0.29 0.35,0.28 0.17,0.28 0.01,0.28 0.07,0.86 0.05,0.47
0.42,-0.04 0.29,-0.04 0.49,0.03 0.52,-0.57 0.66,-0.64 0.71,-0.88 0.83,-1.02 0.38,-0.46 0.34,-0.65 0.29,-1.15
0.44,-1.67 0.53,-1.8 0.38,-1.93 0.53,-2.2 0.12,-2.09 -0.02,-2.38 0.02,-1.56 -0.05,-1.61 -0.22,-1.48
-0.12,-1.44 0.04,-0.55 -0.29,-0.54 -0.32,-0.54 -0.44,-0.85 -0.38,-1.04 -0.74,-1.09 -0.66,-1.47 -0.62,-1.9
-0.63,-2.69 -0.72,-2.88 -0.33,-1.99 -0.13,-0.14 -0.15,-0.3 -0.05,-0.29 -0.13,0.9 -0.34,1.02 -0.38,1.22
-0.48,1.04 -0.59,1.32 -0.6,1.56 -0.53,0.91 -0.68,0.91 -0.77,1.69 -0.83,1.37 -0.97,1.32 -1.27,1.37 -0.83,1.11
-1.08,0.94 -1.06,0.61 -1.08,0.41 -0.89,0.44 -0.78,0.34 -0.87,0.0 -0.79,0.13 -0.62,0.03 -1.24,0.11 -1.15,-0.38
-1.13,-0.57 -1.13,-0.93 -1.15,-0.88 -0.8,-0.35 -1.39,0.53 -1.66,1.22 -1.81,1.59 -2.05,1.33 -2.02,0.98
-2.29,1.13 -2.34,0.95 -2.52,0.79 -1.83,0.59 -1.84,0.27 -2.22,0.31 -2.37,-0.26 -1.65,-0.3 -1.6,-0.47 -2.22,-0.43
-2.28,-0.57 -2.28,-0.77 -2.09,-0.93 -1.67,-1.23 -1.8,-1.4 -1.97,-2.07 -1.97,-2.3 -1.79,-2.74 -2.02,-3.0
-1.32,-2.25"""
R3C1_BLUE = """-1.28,2.71 -1.15,2.64 -0.97,2.13 -1.39,2.04 -1.2,1.67 -1.2,1.58 -0.96,1.59 -0.7,1.4 -0.26,1.83
0.0,1.54 0.22,2.74 0.15,2.65 0.08,2.53 0.54,2.89 0.64,2.78 0.98,2.98 0.99,2.76 1.31,2.79 1.38,2.53 1.47,2.18
2.01,1.89 2.61,2.15 2.89,1.93 2.54,1.28 2.19,0.95 1.97,1.26 1.7,0.95 1.62,0.59 1.67,-0.09 1.56,-0.32 2.52,0.11
2.65,-0.14 2.78,0.26 2.94,0.56 1.89,-0.63 2.26,-0.57 2.33,-0.61 2.61,-0.58 2.69,-0.59 2.82,-0.59 2.49,-0.81
1.76,-2.02 2.76,-2.12 1.48,-0.58 1.48,0.14 1.4,0.13 1.47,0.3 1.44,0.42 1.23,0.41 1.24,-0.29 1.2,-0.42
1.15,-0.14 1.21,-1.18 1.37,-0.85 1.32,-2.21 1.38,-1.53 1.17,1.11 1.06,-0.61 0.98,-0.65 0.91,-0.6 0.89,0.08
0.83,0.07 0.87,-0.42 0.91,-1.0 0.75,-0.36 0.75,-0.19 0.63,-0.38 0.72,0.07 0.75,0.51 0.69,0.45 0.66,0.8
0.74,0.78 0.83,1.03 0.87,0.83 0.52,0.22 0.53,0.08 0.47,0.23 0.46,0.6 0.47,0.74 0.55,0.93 0.54,1.4 0.37,1.23
0.3,1.49 0.26,1.69 0.45,1.61 0.57,2.13 0.19,1.01 0.19,0.88 0.15,0.51 0.06,0.49 0.04,0.78 0.18,0.11 0.26,0.17
0.4,0.06 0.27,-0.32 0.23,-0.55 0.1,-0.81 -0.02,-1.67 0.28,-1.42 0.27,-2.38 0.61,-1.86 0.79,-2.29 0.83,-1.73
0.75,-1.49 0.74,-1.11 0.79,-1.1 0.55,-0.83 0.62,-0.95 -0.21,0.34 -0.22,-0.9 -0.27,-1.64 -0.37,-1.88 -0.41,-0.79
-0.35,-0.63 -0.31,-0.28 -0.33,-0.26 -0.6,-0.26 -0.58,0.21 -0.4,0.03 -0.37,0.41 -0.46,0.61 -0.56,0.56
-0.32,0.86 -0.16,0.89 -0.09,-0.36 -0.18,-0.19 -0.93,-0.24 -0.94,0.03 -0.85,-0.65 -0.78,-0.58 -1.03,-0.45
-1.0,-0.47 -1.13,-1.03 -1.19,-0.21 -1.04,0.72 -1.04,0.64 -0.97,1.58 -1.56,1.27 -1.59,1.14 -1.54,0.25
-1.72,0.91 -1.72,-0.13 -1.75,-0.48 -1.6,-1.32 -1.57,-1.33 -1.55,-1.82 -1.38,-0.38 -1.33,-1.22 -1.45,-2.73
-1.74,-2.52 -1.87,-2.4 -1.93,-2.91 -2.24,-2.63 -2.14,-0.93 -2.01,-1.09 -2.05,-0.64 -2.05,0.1 -2.36,0.14
-2.76,0.03 -2.76,-0.11 -2.85,0.18 -2.79,0.83 -2.04,1.05 -1.95,1.08 -1.89,1.09 -1.99,0.65"""

R3C2_GREEN = """-2.38,2.82 -2.95,2.3 -2.06,2.27 -1.73,2.6 -1.77,2.47 -1.5,2.53 -1.38,2.69 -1.13,2.86 -1.53,2.1
-2.08,1.52 -2.3,1.01 -1.89,0.9 -1.32,1.01 -1.16,1.78 -0.81,1.18 -0.89,1.04 -0.85,0.63 -1.2,0.53 -1.3,0.46
-1.65,0.16 -1.91,0.11 -2.38,-0.36 -2.35,-0.36 -1.3,-0.07 -1.22,-0.5 -1.14,-0.76 -1.07,-0.91 -0.97,-0.92
-0.94,-0.72 -0.75,-0.65 -0.8,-1.21 -0.69,-1.43 -1.52,-0.93 -1.65,-1.57 -1.16,-1.57 -1.3,-1.21 -2.21,-1.27
-2.84,-1.28 -2.21,-2.61 -1.18,-3.02 -0.67,0.2 -0.74,0.07 -0.6,-0.13 -0.66,-0.47 -0.58,-0.32 -0.49,0.56
-0.51,0.51 -0.52,0.45 -0.47,2.03 -0.33,2.03 -0.4,2.18 -0.37,1.67 -0.57,1.1 -0.48,1.47 -0.11,1.53 0.03,1.35
0.13,1.53 0.25,1.05 0.32,2.08 0.32,1.93 0.37,1.67 0.37,1.33 0.17,0.79 0.25,0.63 0.26,0.95 0.34,1.04 0.36,0.83
0.51,1.17 0.67,1.66 0.77,1.47 0.68,1.02 0.7,0.57 0.76,0.57 0.83,0.57 0.73,0.9 0.92,0.64 0.76,0.35 0.66,0.24
0.83,0.07 0.73,0.18 0.8,0.17 0.96,0.01 1.02,0.1 1.01,-0.36 0.81,-0.39 0.85,-0.43 0.82,-0.47 0.64,-0.58
0.59,-0.5 0.49,-0.47 0.41,-0.41 0.45,-0.5 0.55,-0.46 0.47,-0.88 0.53,-1.34 0.7,-1.74 0.6,-1.74 0.76,-1.91
0.53,-2.13 0.89,-1.07 0.9,-1.42 0.92,-1.23 1.11,-0.38 1.17,0.08 1.14,0.4 1.11,0.41 1.27,1.43 1.28,1.32
1.17,2.35 1.11,2.8 0.99,3.01 1.51,2.26 1.55,2.54 1.74,1.69 1.72,1.28 1.71,1.1 1.81,1.1 1.88,1.18 1.65,0.89
1.61,0.86 1.42,0.74 1.37,0.61 1.15,0.64 1.18,0.29 1.3,0.08 1.23,0.08 1.26,1.45 1.51,0.53 1.64,0.57 1.83,0.04
1.43,-0.26 1.45,-0.45 1.54,-0.43 1.67,-1.93 2.08,-0.97 2.14,-1.22 2.05,0.29 2.15,0.29 2.08,0.93 2.18,0.84
2.29,1.11 2.4,1.08 2.42,0.03 2.33,1.05 2.45,1.43 2.51,1.57 2.62,1.18 2.54,0.35 2.65,0.17 2.84,0.35 2.89,0.68
2.71,-0.36 2.65,-1.84 2.83,-1.97 2.98,1.53 2.45,2.27 2.51,2.5 2.44,2.94 1.66,-1.07 2.03,2.03 1.84,-0.26
0.02,-1.71 0.04,-2.15 0.05,-2.31 0.2,-2.2 0.01,-0.31 -0.02,-1.1 0.09,-0.72 0.05,-1.18 0.2,-1.41 0.17,-1.18
0.09,-1.29 0.04,-0.65 -0.03,-0.64 0.04,-0.27 0.25,-0.32 0.24,-0.03 0.15,-0.09 0.12,-0.15 -0.3,-0.74 -0.23,-0.85
-0.08,-1.1 -0.35,-1.01 -0.44,-1.23 -0.47,-1.28 -0.34,-0.07 -0.23,-0.01 -0.53,-0.47 -0.2,-0.55 -0.02,-0.34
0.04,0.45 0.08,0.35 0.18,0.29 -0.13,0.21 -0.15,0.1 0.33,0.19 0.47,-0.07 0.61,-0.39"""
R3C2_ORANGE = """-2.54,1.95 -2.63,1.59 -2.94,0.46 -2.81,0.53 -2.1,0.49 -2.1,-0.12 -1.91,1.47 -1.89,1.43 -1.9,0.04
-1.99,-0.33 -1.95,-0.5 -1.94,-0.61 -1.83,-0.96 -1.73,-0.77 -1.64,-0.52 -1.59,1.67 -1.4,2.0 -1.33,1.24 -1.29,0.8
-1.33,0.26 -1.33,0.15 -1.23,0.39 -1.49,-0.12 -1.32,-0.5 -1.18,-0.63 -1.13,-0.14 -1.05,-0.05 -1.02,-0.12
-0.9,-0.15 -0.98,1.77 -0.95,1.53 -0.98,1.42 -0.78,0.98 -0.73,0.99 -0.65,0.97 -0.89,0.41 -0.89,0.34 -0.81,0.42
-0.44,0.24 -0.45,0.66 -0.31,0.56 -0.29,0.48 -0.43,1.08 -0.35,0.68 -0.15,1.72 -0.08,0.84 -0.05,1.04 -0.17,0.18
-0.18,-0.05 -0.16,0.0 -0.17,-0.2 -0.17,-0.31 -0.2,-0.16 -0.08,-0.07 -0.3,-0.16 -0.35,-0.3 -0.47,0.04 -0.47,-0.09
-0.48,-0.19 -0.32,-0.46 -0.31,-0.63 -0.25,-0.63 -0.2,-0.64 -0.36,-0.81 -0.35,-1.08 -0.3,-1.1 -0.16,-1.1
-0.52,-0.95 -0.62,-0.9 -0.44,-1.19 -0.37,-1.49 -0.59,-1.61 -0.66,-1.66 -0.68,-1.97 -0.53,-1.93 -0.96,-1.42
-0.94,-1.15 -0.88,-1.06 -1.17,-1.26 -1.18,-0.63 -1.59,-1.74 -1.61,-1.97 -1.82,-2.02 -2.21,-2.2 -2.83,-2.43
-2.94,-2.67 -2.4,-1.11 -2.65,-1.17 -2.4,-0.83 -2.32,-1.0 -2.1,-1.38 -0.87,-2.28 -0.47,-2.42 -1.24,-2.45
-0.54,-2.79 0.08,-2.1 0.21,-1.84 0.21,-1.04 0.0,-1.23 -0.02,-0.9 0.09,-0.91 0.21,-0.04 0.07,-0.04 0.05,-0.15
0.01,-0.28 0.11,-0.19 0.17,-0.2 0.25,-0.17 0.28,-0.04 0.34,0.02 0.4,0.02 0.22,-0.41 0.33,-0.41 0.42,-0.47
0.19,-0.52 0.07,-0.63 0.04,-0.54 0.13,-0.43 0.46,-0.69 0.4,-1.08 0.55,-0.95 0.67,-0.95 0.81,-0.63 0.79,-0.09
0.69,-0.05 0.57,-0.13 0.69,-0.21 0.8,-0.64 0.96,-0.36 1.06,-1.52 1.06,-2.17 0.82,-1.7 0.41,-2.97 0.45,0.66
0.34,0.28 0.55,0.34 0.5,0.95 0.49,2.41 0.99,2.4 1.15,2.35 1.15,1.4 1.27,1.96 0.9,1.92 0.96,1.92 0.98,1.46
0.88,1.38 0.72,1.32 0.72,0.94 0.87,0.99 1.06,0.96 1.15,1.05 1.09,0.46 1.15,0.46 1.26,0.43 1.39,0.47 1.34,0.43
1.25,1.21 1.34,1.24 1.36,0.89 1.41,1.16 1.53,0.71 1.53,0.45 1.4,1.59 1.57,1.83 1.58,1.73 1.79,1.88 1.73,1.1
1.68,-0.09 1.34,-0.35 1.74,-0.46 1.31,-0.72 1.15,-0.8 1.48,-1.1 1.7,-1.4 1.91,-0.14 1.93,0.4 1.99,0.13
1.96,2.07 2.1,2.11 2.05,1.84 2.31,0.89 1.89,2.69 1.74,2.92 2.81,1.36 2.88,0.87 2.93,-0.16 2.89,-0.79
2.83,-1.2 2.83,2.33 2.4,-2.46 2.39,-2.88 2.02,0.4"""
R3C2_BLUE = """-1.74,2.85 -1.71,2.8 -2.72,2.26 -2.8,1.39 -2.13,1.16 -2.14,0.15 -2.76,0.11 -1.8,1.43 -1.66,1.39
-1.35,1.58 -1.29,1.57 -1.26,1.62 -1.23,1.05 -1.44,0.92 -1.2,0.18 -1.09,0.48 -0.95,0.11 -0.89,0.1 -0.72,0.45
-0.68,0.03 -0.56,0.02 -0.49,-0.34 -0.5,-0.65 -0.72,2.27 -0.73,2.2 -0.35,2.8 -0.72,2.91 -1.04,1.95 -0.93,1.68
-0.79,1.68 -0.64,1.77 -0.44,1.46 -0.3,1.47 -0.16,2.6 -0.13,2.65 0.38,2.95 -0.1,1.74 0.09,1.67 0.17,1.83
0.23,1.58 0.13,1.58 0.21,1.47 -0.35,1.13 -0.23,1.11 -0.33,1.01 -0.38,0.84 -0.28,0.75 -0.2,0.75 -0.66,0.8
0.0,0.61 -0.02,0.25 -0.17,0.14 -0.08,0.15 0.19,1.17 0.29,0.76 0.2,0.7 0.38,0.83 0.53,1.28 0.57,1.48 0.62,1.33
0.55,1.47 0.71,2.22 0.7,1.95 0.89,1.76 0.9,2.14 0.98,2.04 1.0,1.54 1.18,1.44 0.96,0.83 1.01,0.94 0.64,0.79
0.86,0.18 1.06,0.04 1.11,0.04 1.02,-0.07 1.18,0.23 1.32,0.23 1.19,0.46 1.23,0.51 1.37,0.1 1.17,2.46 1.25,2.73
1.54,2.54 1.73,2.6 1.93,1.76 1.81,1.54 1.81,1.66 1.93,1.49 2.05,1.82 1.54,1.46 1.53,1.02 1.7,0.46 1.66,0.42
1.62,0.22 1.56,0.47 1.77,-0.17 1.69,-0.3 1.77,-0.64 1.79,-0.53 1.71,-0.9 1.73,-0.95 1.75,-1.02 1.71,-1.49
1.53,-0.83 1.52,-0.86 1.41,-0.72 1.35,-1.26 1.18,-0.63 1.21,-0.77 1.19,-0.78 1.18,-0.46 1.2,-0.36 1.25,-0.47
1.11,-1.32 1.22,-1.56 1.21,-1.61 1.31,-1.7 1.06,0.02 1.02,-0.36 0.88,-0.5 0.88,-0.69 0.9,-0.79 0.94,-1.3
0.83,-1.29 0.74,-1.47 0.7,-1.47 0.68,-1.23 0.65,-1.6 0.66,-2.09 0.94,-2.09 0.52,-1.32 0.5,-1.42 0.42,-1.37
0.44,-1.45 0.4,-1.49 0.3,-1.39 0.29,-1.66 0.49,-0.66 0.52,-0.9 0.04,-1.18 0.13,-1.49 0.05,-1.89 0.23,-1.79
-0.27,-2.21 -0.18,-2.96 -0.59,-2.71 -0.78,-1.86 -0.72,-1.15 -0.69,-1.29 -0.49,-1.32 -0.49,-1.24 -1.04,-1.91
-1.26,-2.02 -1.4,-2.2 -1.4,-1.7 -1.61,-1.67 -1.53,-1.23 -1.28,-1.13 -1.72,-2.43 -1.95,-2.48 -1.74,-2.98
-1.7,-2.98 -1.62,-0.45 -1.79,-0.43 -1.72,-0.24 -1.43,-0.33 -1.08,0.04 -0.89,0.07 -0.67,0.02 -0.35,0.27
-0.18,0.14 0.01,0.23 0.05,0.56 -0.09,0.15 -0.03,0.01 -0.3,-0.69 -0.26,-0.69 -0.08,-0.79 -0.08,-0.84 0.02,-0.8
0.09,-0.8 -0.04,-0.79 -0.49,-0.39 -0.37,-0.64 1.99,-0.6 2.02,-0.74 1.87,-1.39 1.87,-1.61 2.11,-1.71 2.16,-1.71
2.46,-1.98 2.84,-1.98 1.9,-2.61 1.55,-2.72 2.34,-0.72 2.49,-0.63 1.98,0.03 2.26,-0.09 2.71,-0.36 2.17,0.29
1.99,-0.54 2.18,0.59 2.33,0.64 2.43,0.78 2.54,0.56 2.55,0.37 2.67,0.59 2.23,0.98 2.26,1.15 2.68,1.29 2.56,1.48
2.53,1.64 2.72,2.64 2.86,2.6 2.68,2.24 2.68,2.01 2.41,1.98 2.26,2.68 2.58,2.95 2.99,0.77 0.91,2.9"""

R3C3_GREEN = """0.19,2.78 0.48,2.76 -0.13,2.61 -0.63,2.3 -0.5,2.27 0.02,2.35 0.89,2.98 1.02,2.53 1.48,2.61 2.97,2.43
-1.4,2.29 -2.4,1.63 -2.22,1.53 -1.86,1.51 -1.88,1.42 -1.62,1.25 -2.35,0.83 -1.66,0.6 -1.18,0.73 -2.35,0.02
-2.86,0.26 -1.95,-0.26 -1.47,0.01 -1.45,0.04 -1.6,-0.96 -2.12,-1.54 -2.48,-2.14 -1.35,-0.26 -0.92,-0.46
-0.97,-0.97 -0.97,-1.42 -0.75,-2.01 -0.81,1.06 -0.9,1.09 -0.55,1.67 -0.38,1.71 -0.39,1.92 -0.65,0.89 -0.5,0.34
-0.33,0.88 -0.21,0.98 -0.13,0.56 -0.17,0.23 -0.26,-0.04 -0.33,-0.15 -0.19,-0.15 -0.51,-0.81 -0.42,-0.93
-0.49,-0.8 0.04,0.34 0.02,0.94 0.14,2.05 0.15,2.02 0.28,1.96 0.26,1.59 0.16,1.49 0.33,1.65 0.39,1.48 0.32,1.16
0.4,1.18 0.48,1.27 0.5,1.33 0.53,1.33 0.38,0.94 0.37,1.06 0.16,0.94 0.12,0.72 0.13,0.42 0.2,0.56 0.24,0.53
0.33,0.32 0.38,0.52 0.39,0.15 0.49,0.66 0.58,0.83 0.58,0.56 0.54,0.44 0.6,0.37 0.66,0.78 0.67,0.46 0.72,1.2
0.74,0.97 0.8,0.94 0.87,1.0 0.77,0.71 0.84,0.64 0.84,0.35 0.83,0.18 0.7,0.26 0.77,0.04 0.7,-0.09 0.72,2.24
0.74,2.16 0.93,2.0 1.01,1.76 0.93,1.54 0.95,1.32 1.01,1.05 0.93,0.78 0.94,0.46 0.99,0.29 1.05,0.15 1.0,-0.17
1.06,0.4 1.09,0.61 1.12,0.83 1.15,1.69 1.15,1.57 1.19,1.28 1.18,1.09 1.2,0.89 1.18,0.6 1.23,0.48 1.27,0.11
1.23,-0.15 1.13,-0.52 1.22,-1.06 1.16,-1.18 1.35,1.39 1.4,1.39 1.36,0.99 1.41,0.83 1.34,0.64 1.49,0.86
1.49,0.42 1.47,1.98 1.53,1.44 1.57,0.94 1.62,1.09 1.68,1.48 1.71,1.06 1.51,0.02 1.52,-0.12 1.65,-0.17
1.45,-0.72 1.68,-0.01 1.76,1.02 1.81,1.28 1.78,0.83 1.79,0.72 1.82,0.18 1.96,2.11 2.0,1.95 2.05,1.64 1.93,0.29
2.1,0.1 2.04,-0.76 2.34,1.49 2.56,1.2 2.65,0.96 2.32,-0.77 2.97,1.38 1.87,-0.14 0.77,-0.93 0.79,-1.23
0.64,-1.82 0.72,-1.51 1.17,-1.18 0.98,-1.32 0.33,-1.45 0.26,0.21 0.27,-0.15 0.33,0.0 0.37,-0.61 0.5,-0.38
0.54,-0.42 0.43,-0.2 0.12,0.07 0.15,-0.19 0.15,-0.04 0.09,-0.36 -0.75,-2.04"""
R3C3_ORANGE = """-0.77,2.84 -0.41,2.59 -1.19,2.47 -0.94,1.94 -1.01,1.48 -1.31,1.36 -2.62,1.09 -3.03,1.4 -1.95,0.61
-1.43,1.02 -1.04,1.24 -0.96,1.27 -1.09,1.16 -0.98,1.16 -1.0,0.89 -0.89,1.05 -0.95,0.48 -0.85,0.38 -0.77,0.24
-1.26,0.13 -1.29,-0.05 -1.42,-0.13 -1.28,-0.17 -1.67,-0.15 -1.45,-0.46 -1.7,-0.65 -1.98,-0.84 -1.89,-1.0
-2.06,-1.04 -2.62,-0.46 -2.72,-0.74 -2.72,-0.87 -2.28,-1.29 -2.16,-1.43 -2.09,-1.33 -1.64,-1.34 -1.62,-2.36
-1.46,-1.63 -1.32,-1.55 -1.44,-1.04 -1.34,-1.13 -1.39,-0.88 -1.34,-0.93 -1.28,-1.03 -1.24,-1.28 -1.15,-1.53
-1.17,-0.36 -1.06,-0.42 -1.14,-0.63 -1.14,-0.76 -1.13,-0.93 -1.11,-1.04 -1.13,-1.23 -1.02,-1.18 -0.98,-1.04
-1.02,-0.69 -0.92,-0.84 -0.89,-0.93 -0.88,-0.64 -0.89,-1.13 -0.82,-0.21 -0.81,-0.36 -0.78,-0.52 -0.76,-0.67
-0.75,-0.88 -0.74,-1.04 -0.81,-0.96 -0.75,-1.46 -0.75,-2.16 -0.79,-2.63 -0.71,-1.51 -0.7,-0.74 -0.69,-0.88
-0.67,0.13 -0.64,0.72 -0.62,-0.3 -0.61,0.68 -0.59,-0.46 -0.58,0.64 -0.57,-1.08 -0.55,-1.23 -0.53,0.29
-0.51,-0.22 -0.5,1.21 -0.49,-0.36 -0.48,-1.34 -0.47,0.91 -0.46,-0.05 -0.45,-0.58 -0.44,0.18 -0.43,-0.79
-0.41,-1.21 -0.37,-0.51 -0.36,0.23 -0.33,0.61 -0.33,0.06 -0.33,-0.3 -0.32,-0.58 -0.3,0.18 -0.29,-1.29
-0.29,-1.42 -0.27,0.91 -0.24,-0.09 -0.23,0.18 -0.22,-0.34 -0.21,-0.6 -0.21,-1.04 -0.21,-1.23 -0.18,-0.79
-0.17,1.81 -0.16,0.37 -0.15,0.83 -0.13,-0.15 -0.13,-0.47 -0.12,0.37 -0.11,-0.64 -0.09,-0.93 -0.08,-0.8
-0.06,0.94 -0.04,0.11 -0.04,-0.2 -0.03,-0.9 0.0,-0.54 0.01,-0.2 0.02,-1.29 0.04,-2.29 0.08,-1.1 0.09,-0.26
0.12,-0.8 0.17,-0.5 0.17,-0.34 0.18,-1.02 0.22,0.68 0.22,-1.53 0.28,-0.63 0.29,-1.83 0.31,-1.4 0.33,1.58
0.34,-0.96 0.35,0.3 0.37,0.72 0.38,-0.5 0.38,-0.74 0.4,-0.76 0.44,-1.23 0.5,-0.3 0.65,-0.04 0.72,-1.77
0.78,-0.38 0.72,0.48 0.79,-0.72 0.97,-0.03 1.05,-0.17 1.08,1.77 1.09,-0.36 1.18,0.1 1.21,-0.5 1.31,2.15
1.37,-0.88 1.14,-1.88 1.35,2.68 1.4,0.73 1.65,0.63 1.76,2.65 1.79,1.64 1.99,-0.84 2.04,2.38 2.17,1.88 2.6,0.04
2.53,-0.45 2.84,1.89 1.06,-0.38 0.05,-2.32 -0.76,-2.17 0.29,0.55 0.37,-0.2"""
R3C3_BLUE = """0.1,2.99 -0.15,2.76 0.84,2.76 -0.74,2.53 -0.68,2.53 -0.42,2.53 -1.05,2.47 -0.15,2.47 -0.13,2.41
-0.19,2.23 -0.44,2.23 -0.11,2.05 0.58,2.3 0.99,2.26 1.01,2.19 0.83,2.15 0.87,2.08 1.36,2.27 1.38,2.04 1.61,2.43
-2.18,1.92 -1.32,1.78 -0.96,1.74 -0.17,1.77 -0.17,1.49 0.57,1.96 0.36,1.78 0.35,1.66 0.46,1.69 0.64,1.74
0.74,1.62 0.85,1.85 0.89,1.78 0.94,1.77 1.18,1.98 1.22,1.86 1.62,1.65 1.69,1.5 1.87,1.88 1.81,1.85 1.95,1.54
2.42,1.6 2.46,1.48 2.07,1.48 2.23,1.27 1.71,1.2 1.61,1.18 1.55,1.28 1.94,1.17 2.02,1.09 2.1,0.91 2.03,0.72
2.14,0.72 2.0,0.6 1.92,0.64 1.84,0.89 1.75,0.91 1.7,0.77 1.64,0.63 1.73,0.45 1.58,0.45 1.66,0.23 1.64,0.02
1.78,0.07 1.72,0.02 1.91,0.4 2.02,0.23 1.95,0.01 2.09,-0.1 2.21,0.32 2.23,0.34 2.45,0.6 2.48,0.01 2.45,0.82
2.58,-0.13 2.41,-0.35 2.37,-0.36 2.07,-0.5 2.18,-0.42 2.89,0.45 2.96,-0.92 2.88,-1.14 2.47,-1.65 1.92,-1.51
1.81,-1.34 1.89,-0.7 1.83,-0.7 1.68,-0.64 1.57,-0.97 1.45,-0.87 1.32,-0.36 1.36,-0.2 1.47,-0.34 1.36,0.15
1.51,0.14 1.49,-0.03 1.36,0.22 1.26,-0.84 1.22,-0.93 1.18,-1.03 1.19,-1.18 1.24,-1.53 1.15,-1.66 1.42,-1.93
1.58,-1.95 1.53,-2.24 0.95,-1.74 0.83,-1.54 0.74,-1.54 0.7,-1.67 0.6,-1.54 0.46,-1.54 0.66,-1.32 0.81,-1.07
0.81,-1.18 0.86,-1.18 0.54,-1.08 0.62,-1.11 0.79,-0.8 0.8,-0.85 0.94,-0.8 0.81,-0.53 0.74,-0.24 0.77,-0.03
0.84,-0.05 0.88,-0.14 0.91,-0.12 0.97,-0.36 1.13,-0.33 1.16,-0.36 0.9,0.4 0.79,0.33 0.76,0.26 0.77,0.18
0.68,0.15 0.72,0.2 0.87,0.83 0.92,0.94 1.01,1.21 1.03,1.08 1.11,1.38 1.17,1.32 1.24,0.97 1.32,0.87 1.36,0.75
1.41,0.72 1.47,0.72 1.19,0.56 1.32,0.7 1.29,0.19 0.78,0.97 0.79,1.02 0.83,1.2 0.77,1.22 0.66,0.7 0.68,0.86
0.6,0.87 0.56,1.02 0.5,0.89 0.35,0.72 0.38,0.6 0.32,0.53 0.23,0.56 0.4,0.23 0.44,0.02 0.43,-0.12 0.34,-0.31
0.31,-0.09 0.26,0.94 0.13,1.44 0.24,1.47 0.19,1.18 0.0,1.78 -0.02,1.32 -0.13,1.15 -0.15,0.97 -0.29,1.24
-0.31,1.26 -0.28,1.08 -0.39,1.02 -0.54,0.74 -0.61,1.35 -0.6,1.24 -0.69,0.47 -0.38,0.46 -0.21,0.34 -0.06,0.53
-0.05,0.56 -0.02,-0.09 -0.4,-0.05 -0.58,0.18 -0.56,-0.1 0.1,-0.77 0.16,-0.69 0.2,-0.76 0.06,-1.49 0.16,-1.18
0.29,-1.21 0.42,-0.88 0.3,-1.18 -0.23,-1.39 -0.19,-1.9 -0.52,-1.73 -0.57,-0.1 -0.69,-0.1 -0.93,-0.79
-0.77,-1.02 -0.85,-0.93 -1.0,0.37 -1.14,0.37 -1.35,0.51 -1.35,0.29 -1.68,0.15 -1.92,-0.15 -2.06,-0.3
-1.83,-0.49 -1.81,0.98 -2.05,-0.96 -1.49,-1.48 -1.38,-1.67 -1.14,-2.57 -0.66,-2.92 0.23,-2.59 0.38,-2.39
0.46,-2.29 1.86,-0.14 2.56,0.01 2.5,0.6 1.49,-1.48 1.13,-1.04 0.96,-0.43 1.17,-1.49"""

R3C4_GREEN = """0.45,1.1 0.5,0.95 0.52,1.2 0.55,0.8 0.58,1.05 0.6,1.35 0.62,0.9 0.65,1.15 0.65,0.7 0.68,1.0
0.7,1.25 0.72,0.85 0.72,1.45 0.75,1.1 0.78,0.95 0.78,0.6 0.8,1.3 0.8,0.8 0.82,1.05 0.85,1.2 0.85,0.9 0.88,0.7
0.88,1.4 0.9,1.0 0.92,1.15 0.92,0.82 0.95,1.3 0.95,0.6 0.98,0.95 1.0,1.1 1.0,0.75 1.02,1.25 1.05,0.9 1.05,1.5
1.08,1.05 1.1,0.8 1.1,1.35 1.12,0.65 1.15,1.0 1.15,1.2 1.18,0.85 1.2,1.4 1.22,1.05 1.25,0.75 1.25,1.25 1.3,0.95
1.32,1.6 1.35,1.1 0.6,0.6 0.7,0.5 0.85,0.5 1.0,0.45 0.55,1.45 0.48,0.85 0.9,1.55 0.75,1.55 1.05,0.55 0.68,0.75
0.82,1.15 0.95,0.85 1.12,1.12 0.62,1.02 0.77,0.72 1.2,0.6 0.98,1.4 0.6,1.6 0.85,0.4 0.2,0.97 0.12,0.41
0.25,0.41 0.44,0.49 0.59,1.65 1.33,1.65 1.63,1.13 1.52,0.53 2.63,1.12 1.16,0.28 0.95,0.3"""
R3C4_ORANGE = """-1.35,-0.75 -1.32,-0.95 -1.3,-0.6 -1.28,-1.1 -1.25,-0.85 -1.22,-0.45 -1.2,-1.25 -1.18,-0.7
-1.15,-1.0 -1.12,-0.55 -1.1,-0.85 -1.08,-1.3 -1.05,-0.4 -1.05,-1.1 -1.02,-0.7 -1.0,-0.95 -0.98,-0.5 -0.98,-1.35
-0.95,-0.8 -0.92,-1.15 -0.9,-0.6 -0.9,-1.0 -0.88,-0.35 -0.85,-0.85 -0.85,-1.25 -0.82,-0.65 -0.8,-1.05
-0.78,-0.45 -0.78,-1.4 -0.75,-0.9 -0.72,-0.7 -0.7,-1.15 -0.68,-0.55 -0.65,-1.0 -0.62,-0.8 -0.6,-1.3 -0.58,-0.6
-0.55,-0.95 -0.52,-0.4 -0.5,-1.1 -0.48,-0.75 -0.45,-0.55 -0.42,-0.9 -0.4,-1.2 -0.38,-0.7 -0.35,-0.6 -0.33,-0.85
-1.0,-0.75 -0.95,-1.05 -1.1,-0.95 -0.7,-0.85 -0.8,-0.6 -1.15,-0.8 -0.65,-0.35 -0.6,-0.25 -1.28,-0.3 -0.95,-0.3
-1.2,-1.0 -0.88,-0.75 -0.72,-1.0 -1.67,-0.03 -1.74,-0.23 -1.15,-0.09 -1.5,-0.57 -1.64,-0.77 -1.71,-1.07
-1.43,-1.57 -0.2,-1.37 -0.14,-0.2 -0.13,-0.36 0.01,0.15 0.4,0.17 0.1,-0.27 0.19,-0.3 -0.32,-0.99"""
R3C4_BLUE = """-0.48,2.15 -0.12,2.13 0.02,2.38 0.12,2.47 0.09,2.24 0.24,2.24 0.54,2.31 0.88,2.35 0.81,2.15 0.28,2.01
0.33,1.89 0.09,1.78 0.41,1.71 0.59,1.82 0.71,1.89 0.93,1.95 0.94,1.79 1.08,2.0 1.12,1.95 1.1,1.65 1.16,1.76
1.31,1.62 1.4,1.48 1.55,1.65 1.46,1.54 1.62,1.54 1.57,1.43 1.5,1.24 1.65,1.21 1.73,1.18 1.83,1.08 1.91,0.94
1.8,0.89 1.74,0.72 1.86,0.68 1.99,0.73 1.84,0.52 1.93,0.41 2.01,0.34 2.04,0.19 2.14,0.51 2.17,0.19 2.06,0.1
2.24,0.01 1.83,-0.01 1.56,-0.03 2.01,-0.2 1.93,-0.3 1.99,-0.36 1.83,-0.45 1.93,-0.5 1.86,-0.64 1.88,-0.74
1.63,-0.5 1.99,-0.76 1.67,-0.72 1.57,-0.8 1.4,-0.8 1.8,-0.91 1.63,-1.01 1.55,-1.13 1.42,-1.1 1.33,-1.13
1.72,-1.18 1.53,-1.26 1.38,-1.3 1.29,-1.4 1.14,-1.37 1.12,-1.45 1.25,-1.45 1.27,-1.61 1.08,-1.53 1.12,-1.72
0.91,-1.56 0.91,-1.82 0.87,-1.83 0.59,-1.6 0.44,-1.52 0.48,-1.67 0.57,-1.75 0.65,-1.8 0.36,-1.75 0.19,-1.75
0.25,-1.91 0.19,-2.01 -0.01,-1.71 0.17,-1.55 0.4,-2.02 0.63,-2.07 -0.17,-2.09 -0.15,-2.18 0.08,-2.18 0.08,-2.27
-0.26,-1.55 -0.51,-2.26 -1.91,-2.52 -0.38,-0.36 1.57,-0.47 1.63,-0.64 1.56,-1.02 1.76,0.29 1.57,0.34 1.83,0.4
2.01,-0.04 0.46,1.35 0.36,0.77 0.45,0.48 0.57,1.1 0.95,1.49 1.1,1.47 1.36,1.48 1.29,1.36 1.38,1.21 1.46,1.09
1.55,0.91 1.72,0.89 1.33,0.97 1.25,1.01 1.2,0.72 1.33,0.67 1.5,0.78"""

R3C5_GREEN = """0.7,1.05 0.72,0.95 0.74,1.12 0.76,1.0 0.78,1.2 0.8,0.88 0.82,1.08 0.84,1.25 0.86,0.95 0.88,1.15
0.9,0.8 0.9,1.3 0.92,1.02 0.94,1.2 0.96,0.9 0.98,1.1 1.0,0.78 1.0,1.28 1.02,1.0 1.04,1.18 1.06,0.88 1.08,1.08
1.1,0.95 1.1,1.22 1.12,1.05 1.14,0.85 1.16,1.15 1.18,0.98 1.2,1.1 1.22,1.02 0.85,1.05 0.95,1.05 1.05,0.98
0.92,0.92 1.05,1.25"""
R3C5_ORANGE = """-1.3,-1.0 -1.28,-1.3 -1.25,-0.9 -1.22,-1.15 -1.2,-0.8 -1.18,-1.05 -1.15,-1.25 -1.12,-0.7 -1.12,-0.95
-1.1,-1.15 -1.08,-0.62 -1.05,-0.85 -1.05,-1.05 -1.02,-1.2 -1.0,-0.55 -1.0,-0.95 -0.98,-0.75 -0.98,-1.1
-0.95,-0.88 -0.95,-1.25 -0.92,-1.0 -0.9,-0.7 -0.88,-1.15 -0.85,-0.85 -0.85,-1.05 -0.82,-0.95 -0.8,-0.75
-0.8,-1.12 -0.78,-1.0 -1.15,-1.0 -1.05,-0.75 -0.95,-1.05 -1.1,-0.85 -1.25,-1.05 -1.0,-1.3"""
R3C5_BLUE = """0.58,1.77 0.86,1.96 0.82,1.89 0.92,1.88 0.99,1.78 1.01,1.71 1.14,1.81 1.16,1.79 1.09,1.66 1.18,1.62
1.26,1.55 1.35,1.48 1.22,1.4 1.39,1.48 1.43,1.38 1.52,1.29 1.6,1.21 1.65,1.15 1.7,1.05 1.81,0.97 1.84,0.91
1.75,0.83 1.86,0.7 1.9,0.61 1.94,0.52 1.98,0.37 2.0,0.23 2.03,0.13 2.01,-0.04 2.0,-0.15 2.03,-0.26 1.97,-0.36
1.94,-0.47 1.92,-0.61 1.86,-0.69 1.81,-0.8 1.79,-0.88 1.73,-0.99 1.67,-1.1 1.62,-1.18 1.56,-1.23 1.47,-1.32
1.43,-1.4 1.36,-1.48 1.26,-1.49 1.22,-1.57 1.18,-1.61 1.09,-1.56 1.08,-1.66 1.05,-1.78 0.88,-1.77 0.69,-1.78
0.61,-1.89 0.36,-2.01 0.22,-2.1 0.03,-2.2 1.96,0.45 1.99,0.05 1.9,0.75 1.88,-0.55 1.5,-1.25 1.3,1.5"""

PANELS = [
    [(R1C1_GREEN, R1C1_ORANGE, R1C1_BLUE), (R1C2_GREEN, R1C2_ORANGE, R1C2_BLUE),
     (R1C3_GREEN, R1C3_ORANGE, R1C3_BLUE), (R1C4_GREEN, R1C4_ORANGE, R1C4_BLUE),
     (R1C5_GREEN, R1C5_ORANGE, R1C5_BLUE)],
    [(R2C1_GREEN, R2C1_ORANGE, R2C1_BLUE), (R2C2_GREEN, R2C2_ORANGE, R2C2_BLUE),
     (R2C3_GREEN, R2C3_ORANGE, R2C3_BLUE), (R2C4_GREEN, R2C4_ORANGE, R2C4_BLUE),
     (R2C5_GREEN, R2C5_ORANGE, R2C5_BLUE)],
    [(R3C1_GREEN, R3C1_ORANGE, R3C1_BLUE), (R3C2_GREEN, R3C2_ORANGE, R3C2_BLUE),
     (R3C3_GREEN, R3C3_ORANGE, R3C3_BLUE), (R3C4_GREEN, R3C4_ORANGE, R3C4_BLUE),
     (R3C5_GREEN, R3C5_ORANGE, R3C5_BLUE)],
]


def parse(text):
    arr = np.array([p.split(",") for p in text.split()], dtype=float)
    return arr[:, 0], arr[:, 1]


sns.set_theme(style="darkgrid")
plt.rcParams["font.family"] = ["DejaVu Sans"]
colors = sns.color_palette("Set2", 3)
title_font = ["Liberation Sans", "Arial", "DejaVu Sans"]

W, H = 2947, 1411
fig = plt.figure(figsize=(W / 100, H / 100), dpi=100)

col_left = [184, 742, 1300, 1858, 2417]
row_top = [136, 564, 992]
ax_w, ax_h = 494, 368

for r in range(3):
    for c in range(5):
        ax = fig.add_axes([col_left[c] / W, 1 - (row_top[r] + ax_h) / H, ax_w / W, ax_h / H])
        for k, text in enumerate(PANELS[r][c]):
            x, y = parse(text)
            ax.scatter(x, y, s=36, color=colors[k], alpha=0.85,
                       edgecolors="white", linewidths=0.6, zorder=2 + k)
        ax.set_xlim(-3, 3)
        ax.set_ylim(-3, 3)
        ax.set_xticks(TICKS)
        ax.set_yticks(TICKS)
        ax.tick_params(axis="both", labelsize=11, length=0, pad=10)
        ax.legend(handles=[], loc="upper left")
        if r == 0:
            ax.set_title(COL_LABELS[c], fontsize=30, family=title_font, pad=23)

# row labels and overall labels
for r in range(3):
    yc = 1 - (row_top[r] + ax_h / 2) / H
    fig.text(112 / W, yc, ROW_LABELS[r], rotation=90, ha="center", va="center",
             fontsize=30, family=title_font)

fig.text(1530 / W, 1 - 45 / H, SUPTITLE, ha="center", va="baseline",
         fontsize=30, family=title_font)
fig.text(49 / W, 1 - 760 / H, SUPYLABEL, rotation=90, ha="center", va="center",
         fontsize=30, family=title_font)

fig.savefig("out.png", dpi=100)
